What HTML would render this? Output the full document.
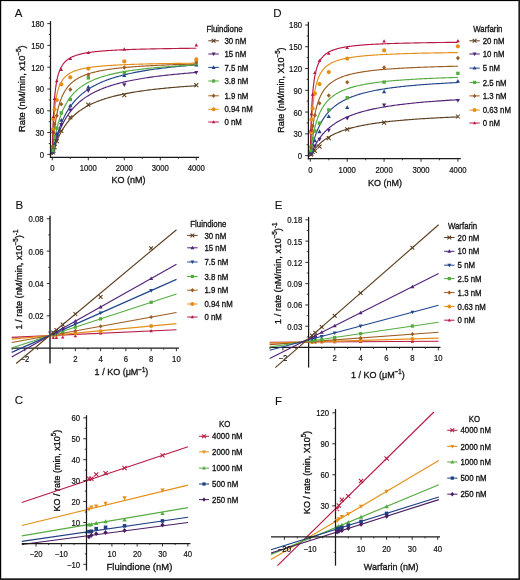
<!DOCTYPE html>
<html><head><meta charset="utf-8"><style>
html,body{margin:0;padding:0;background:#fff;}
body{width:520px;height:580px;overflow:hidden;position:relative;}
svg{display:block;position:absolute;left:0;top:0;will-change:transform;}
text{font-family:"Liberation Sans",sans-serif;stroke:#111;stroke-width:0.32px;}
.bd{position:absolute;background:#111;}
</style></head><body>
<svg width="520" height="580" viewBox="0 0 520 580">
<rect x="0" y="0" width="520" height="580" fill="#fff"/>
<text x="0" y="0" font-size="11.5" text-anchor="middle" fill="#111" transform="translate(18.6 17.24)" style="stroke-width:0.1px">A</text>
<text x="0" y="0" font-size="11.5" text-anchor="middle" fill="#111" transform="translate(277.4 17.24)" style="stroke-width:0.1px">D</text>
<text x="0" y="0" font-size="11.5" text-anchor="middle" fill="#111" transform="translate(19.3 208.74)" style="stroke-width:0.1px">B</text>
<text x="0" y="0" font-size="11.5" text-anchor="middle" fill="#111" transform="translate(278.5 208.74)" style="stroke-width:0.1px">E</text>
<text x="0" y="0" font-size="11.5" text-anchor="middle" fill="#111" transform="translate(18.9 404.34)" style="stroke-width:0.1px">C</text>
<text x="0" y="0" font-size="11.5" text-anchor="middle" fill="#111" transform="translate(278.6 404.64)" style="stroke-width:0.1px">F</text>
<path d="M52.3 154.4L52.3 154.4L52.3 154.4L52.3 154.4L52.3 154.4L52.3 154.39L52.3 154.39L52.3 154.38L52.31 154.38L52.31 154.37L52.31 154.35L52.32 154.34L52.32 154.32L52.33 154.3L52.34 154.27L52.35 154.24L52.36 154.21L52.37 154.17L52.38 154.12L52.39 154.07L52.41 154.02L52.43 153.96L52.44 153.9L52.46 153.82L52.49 153.75L52.51 153.66L52.54 153.57L52.57 153.47L52.6 153.37L52.63 153.25L52.67 153.13L52.7 153L52.74 152.87L52.79 152.72L52.83 152.57L52.88 152.41L52.93 152.24L52.99 152.06L53.04 151.87L53.1 151.67L53.17 151.46L53.23 151.25L53.3 151.02L53.38 150.78L53.45 150.54L53.53 150.28L53.62 150.02L53.7 149.74L53.8 149.46L53.89 149.16L53.99 148.86L54.09 148.54L54.2 148.22L54.31 147.89L54.43 147.54L54.55 147.19L54.67 146.83L54.8 146.46L54.94 146.07L55.08 145.68L55.22 145.29L55.37 144.88L55.52 144.46L55.68 144.04L55.85 143.6L56.01 143.16L56.19 142.71L56.37 142.26L56.55 141.79L56.74 141.32L56.94 140.84L57.14 140.36L57.35 139.87L57.56 139.37L57.78 138.86L58.01 138.35L58.24 137.84L58.47 137.32L58.72 136.79L58.97 136.27L59.22 135.73L59.49 135.19L59.76 134.65L60.03 134.11L60.32 133.56L60.61 133.01L60.9 132.46L61.21 131.9L61.52 131.35L61.83 130.79L62.16 130.23L62.49 129.67L62.83 129.1L63.18 128.54L63.53 127.98L63.89 127.42L64.26 126.85L64.64 126.29L65.03 125.73L65.42 125.17L65.82 124.61L66.23 124.05L66.65 123.5L67.08 122.94L67.51 122.39L67.96 121.84L68.41 121.29L68.87 120.75L69.34 120.21L69.81 119.67L70.3 119.13L70.8 118.6L71.3 118.07L71.81 117.54L72.34 117.02L72.87 116.5L73.41 115.98L73.96 115.47L74.52 114.97L75.09 114.46L75.67 113.97L76.26 113.47L76.86 112.98L77.47 112.5L78.08 112.02L78.71 111.54L79.35 111.07L80 110.6L80.66 110.14L81.33 109.68L82.01 109.23L82.7 108.78L83.4 108.34L84.12 107.9L84.84 107.47L85.57 107.05L86.32 106.62L87.07 106.21L87.84 105.79L88.62 105.39L89.41 104.98L90.21 104.58L91.02 104.19L91.85 103.8L92.68 103.42L93.53 103.04L94.39 102.67L95.26 102.3L96.14 101.94L97.04 101.58L97.94 101.23L98.86 100.88L99.79 100.53L100.74 100.19L101.69 99.86L102.66 99.53L103.64 99.2L104.64 98.88L105.64 98.56L106.66 98.25L107.69 97.94L108.74 97.64L109.8 97.34L110.87 97.04L111.95 96.75L113.05 96.46L114.16 96.18L115.29 95.9L116.42 95.63L117.58 95.36L118.74 95.09L119.92 94.83L121.11 94.57L122.32 94.31L123.54 94.06L124.78 93.81L126.03 93.57L127.29 93.33L128.57 93.09L129.86 92.85L131.17 92.62L132.49 92.4L133.83 92.17L135.18 91.95L136.55 91.73L137.93 91.52L139.32 91.31L140.73 91.1L142.16 90.9L143.6 90.7L145.06 90.5L146.53 90.3L148.02 90.11L149.52 89.92L151.04 89.73L152.58 89.55L154.13 89.37L155.69 89.19L157.28 89.01L158.87 88.84L160.49 88.66L162.12 88.5L163.77 88.33L165.43 88.17L167.11 88L168.81 87.85L170.52 87.69L172.25 87.53L174 87.38L175.76 87.23L177.54 87.08L179.34 86.94L181.16 86.8L182.99 86.65L184.84 86.51L186.7 86.38L188.59 86.24L190.49 86.11L192.41 85.98L194.35 85.85L196.3 85.72" fill="none" stroke="#5e3f1f" stroke-width="1.15"/>
<path d="M52.3 154.4L52.3 154.4L52.3 154.4L52.3 154.4L52.3 154.4L52.3 154.39L52.3 154.39L52.3 154.38L52.31 154.37L52.31 154.36L52.31 154.34L52.32 154.32L52.32 154.3L52.33 154.27L52.34 154.24L52.35 154.2L52.36 154.16L52.37 154.11L52.38 154.06L52.39 154L52.41 153.93L52.43 153.86L52.44 153.78L52.46 153.69L52.49 153.6L52.51 153.49L52.54 153.38L52.57 153.26L52.6 153.13L52.63 152.99L52.67 152.84L52.7 152.68L52.74 152.51L52.79 152.34L52.83 152.15L52.88 151.95L52.93 151.74L52.99 151.52L53.04 151.28L53.1 151.04L53.17 150.79L53.23 150.52L53.3 150.24L53.38 149.95L53.45 149.65L53.53 149.34L53.62 149.01L53.7 148.67L53.8 148.32L53.89 147.96L53.99 147.59L54.09 147.21L54.2 146.81L54.31 146.4L54.43 145.98L54.55 145.55L54.67 145.11L54.8 144.65L54.94 144.19L55.08 143.71L55.22 143.22L55.37 142.72L55.52 142.22L55.68 141.7L55.85 141.17L56.01 140.63L56.19 140.08L56.37 139.53L56.55 138.96L56.74 138.39L56.94 137.81L57.14 137.22L57.35 136.62L57.56 136.01L57.78 135.4L58.01 134.78L58.24 134.16L58.47 133.53L58.72 132.89L58.97 132.25L59.22 131.61L59.49 130.96L59.76 130.3L60.03 129.64L60.32 128.98L60.61 128.32L60.9 127.65L61.21 126.98L61.52 126.31L61.83 125.64L62.16 124.96L62.49 124.29L62.83 123.61L63.18 122.94L63.53 122.26L63.89 121.58L64.26 120.91L64.64 120.24L65.03 119.56L65.42 118.89L65.82 118.22L66.23 117.55L66.65 116.89L67.08 116.23L67.51 115.56L67.96 114.91L68.41 114.25L68.87 113.6L69.34 112.96L69.81 112.31L70.3 111.67L70.8 111.04L71.3 110.41L71.81 109.78L72.34 109.16L72.87 108.54L73.41 107.93L73.96 107.33L74.52 106.72L75.09 106.13L75.67 105.54L76.26 104.95L76.86 104.37L77.47 103.8L78.08 103.23L78.71 102.67L79.35 102.11L80 101.56L80.66 101.01L81.33 100.47L82.01 99.94L82.7 99.41L83.4 98.89L84.12 98.37L84.84 97.86L85.57 97.36L86.32 96.86L87.07 96.37L87.84 95.89L88.62 95.41L89.41 94.93L90.21 94.47L91.02 94.01L91.85 93.55L92.68 93.1L93.53 92.66L94.39 92.22L95.26 91.79L96.14 91.36L97.04 90.94L97.94 90.53L98.86 90.12L99.79 89.71L100.74 89.32L101.69 88.92L102.66 88.54L103.64 88.16L104.64 87.78L105.64 87.41L106.66 87.04L107.69 86.68L108.74 86.33L109.8 85.98L110.87 85.63L111.95 85.3L113.05 84.96L114.16 84.63L115.29 84.31L116.42 83.98L117.58 83.67L118.74 83.36L119.92 83.05L121.11 82.75L122.32 82.45L123.54 82.16L124.78 81.87L126.03 81.59L127.29 81.31L128.57 81.03L129.86 80.76L131.17 80.49L132.49 80.23L133.83 79.97L135.18 79.71L136.55 79.46L137.93 79.21L139.32 78.96L140.73 78.72L142.16 78.49L143.6 78.25L145.06 78.02L146.53 77.79L148.02 77.57L149.52 77.35L151.04 77.13L152.58 76.92L154.13 76.71L155.69 76.5L157.28 76.3L158.87 76.1L160.49 75.9L162.12 75.7L163.77 75.51L165.43 75.32L167.11 75.13L168.81 74.95L170.52 74.77L172.25 74.59L174 74.41L175.76 74.24L177.54 74.07L179.34 73.9L181.16 73.74L182.99 73.57L184.84 73.41L186.7 73.25L188.59 73.1L190.49 72.94L192.41 72.79L194.35 72.64L196.3 72.49" fill="none" stroke="#522379" stroke-width="1.15"/>
<path d="M52.3 154.4L52.3 154.4L52.3 154.4L52.3 154.4L52.3 154.4L52.3 154.39L52.3 154.39L52.3 154.38L52.31 154.37L52.31 154.35L52.31 154.33L52.32 154.31L52.32 154.28L52.33 154.25L52.34 154.22L52.35 154.17L52.36 154.13L52.37 154.07L52.38 154.01L52.39 153.94L52.41 153.86L52.43 153.78L52.44 153.69L52.46 153.59L52.49 153.48L52.51 153.36L52.54 153.23L52.57 153.09L52.6 152.94L52.63 152.78L52.67 152.61L52.7 152.43L52.74 152.24L52.79 152.04L52.83 151.82L52.88 151.59L52.93 151.35L52.99 151.1L53.04 150.83L53.1 150.56L53.17 150.27L53.23 149.96L53.3 149.64L53.38 149.31L53.45 148.97L53.53 148.61L53.62 148.24L53.7 147.86L53.8 147.46L53.89 147.05L53.99 146.62L54.09 146.19L54.2 145.74L54.31 145.27L54.43 144.8L54.55 144.31L54.67 143.8L54.8 143.29L54.94 142.76L55.08 142.22L55.22 141.67L55.37 141.11L55.52 140.53L55.68 139.95L55.85 139.35L56.01 138.74L56.19 138.13L56.37 137.5L56.55 136.86L56.74 136.22L56.94 135.56L57.14 134.9L57.35 134.23L57.56 133.55L57.78 132.86L58.01 132.17L58.24 131.47L58.47 130.77L58.72 130.06L58.97 129.34L59.22 128.62L59.49 127.89L59.76 127.16L60.03 126.43L60.32 125.7L60.61 124.96L60.9 124.21L61.21 123.47L61.52 122.73L61.83 121.98L62.16 121.23L62.49 120.49L62.83 119.74L63.18 118.99L63.53 118.25L63.89 117.5L64.26 116.76L64.64 116.01L65.03 115.27L65.42 114.53L65.82 113.8L66.23 113.06L66.65 112.33L67.08 111.61L67.51 110.88L67.96 110.16L68.41 109.45L68.87 108.74L69.34 108.03L69.81 107.33L70.3 106.63L70.8 105.94L71.3 105.25L71.81 104.57L72.34 103.9L72.87 103.23L73.41 102.56L73.96 101.9L74.52 101.25L75.09 100.6L75.67 99.96L76.26 99.33L76.86 98.7L77.47 98.08L78.08 97.47L78.71 96.86L79.35 96.26L80 95.66L80.66 95.08L81.33 94.5L82.01 93.92L82.7 93.36L83.4 92.79L84.12 92.24L84.84 91.69L85.57 91.15L86.32 90.62L87.07 90.09L87.84 89.57L88.62 89.06L89.41 88.55L90.21 88.06L91.02 87.56L91.85 87.08L92.68 86.6L93.53 86.12L94.39 85.66L95.26 85.2L96.14 84.74L97.04 84.29L97.94 83.85L98.86 83.42L99.79 82.99L100.74 82.57L101.69 82.15L102.66 81.74L103.64 81.33L104.64 80.94L105.64 80.54L106.66 80.16L107.69 79.77L108.74 79.4L109.8 79.03L110.87 78.66L111.95 78.3L113.05 77.95L114.16 77.6L115.29 77.26L116.42 76.92L117.58 76.59L118.74 76.26L119.92 75.93L121.11 75.61L122.32 75.3L123.54 74.99L124.78 74.69L126.03 74.39L127.29 74.09L128.57 73.8L129.86 73.52L131.17 73.23L132.49 72.96L133.83 72.68L135.18 72.41L136.55 72.15L137.93 71.89L139.32 71.63L140.73 71.38L142.16 71.13L143.6 70.88L145.06 70.64L146.53 70.4L148.02 70.17L149.52 69.94L151.04 69.71L152.58 69.49L154.13 69.27L155.69 69.05L157.28 68.84L158.87 68.62L160.49 68.42L162.12 68.21L163.77 68.01L165.43 67.81L167.11 67.62L168.81 67.43L170.52 67.24L172.25 67.05L174 66.87L175.76 66.68L177.54 66.51L179.34 66.33L181.16 66.16L182.99 65.99L184.84 65.82L186.7 65.65L188.59 65.49L190.49 65.33L192.41 65.17L194.35 65.02L196.3 64.86" fill="none" stroke="#22468c" stroke-width="1.15"/>
<path d="M52.3 154.4L52.3 154.4L52.3 154.4L52.3 154.4L52.3 154.39L52.3 154.39L52.3 154.38L52.3 154.36L52.31 154.35L52.31 154.32L52.31 154.3L52.32 154.26L52.32 154.22L52.33 154.17L52.34 154.12L52.35 154.05L52.36 153.98L52.37 153.89L52.38 153.8L52.39 153.69L52.41 153.58L52.43 153.45L52.44 153.31L52.46 153.15L52.49 152.99L52.51 152.81L52.54 152.61L52.57 152.4L52.6 152.17L52.63 151.93L52.67 151.68L52.7 151.4L52.74 151.12L52.79 150.81L52.83 150.49L52.88 150.15L52.93 149.79L52.99 149.41L53.04 149.02L53.1 148.61L53.17 148.18L53.23 147.74L53.3 147.28L53.38 146.8L53.45 146.3L53.53 145.78L53.62 145.25L53.7 144.7L53.8 144.14L53.89 143.55L53.99 142.96L54.09 142.34L54.2 141.71L54.31 141.07L54.43 140.41L54.55 139.74L54.67 139.05L54.8 138.35L54.94 137.64L55.08 136.92L55.22 136.18L55.37 135.44L55.52 134.68L55.68 133.92L55.85 133.14L56.01 132.36L56.19 131.57L56.37 130.77L56.55 129.96L56.74 129.15L56.94 128.34L57.14 127.52L57.35 126.69L57.56 125.87L57.78 125.04L58.01 124.2L58.24 123.37L58.47 122.54L58.72 121.7L58.97 120.86L59.22 120.03L59.49 119.2L59.76 118.37L60.03 117.54L60.32 116.71L60.61 115.89L60.9 115.07L61.21 114.25L61.52 113.44L61.83 112.63L62.16 111.83L62.49 111.04L62.83 110.25L63.18 109.46L63.53 108.68L63.89 107.91L64.26 107.15L64.64 106.39L65.03 105.64L65.42 104.9L65.82 104.17L66.23 103.44L66.65 102.73L67.08 102.02L67.51 101.32L67.96 100.62L68.41 99.94L68.87 99.27L69.34 98.6L69.81 97.94L70.3 97.29L70.8 96.65L71.3 96.02L71.81 95.4L72.34 94.79L72.87 94.18L73.41 93.59L73.96 93L74.52 92.43L75.09 91.86L75.67 91.3L76.26 90.75L76.86 90.2L77.47 89.67L78.08 89.15L78.71 88.63L79.35 88.12L80 87.62L80.66 87.13L81.33 86.65L82.01 86.17L82.7 85.7L83.4 85.24L84.12 84.79L84.84 84.35L85.57 83.91L86.32 83.48L87.07 83.06L87.84 82.65L88.62 82.24L89.41 81.84L90.21 81.45L91.02 81.06L91.85 80.68L92.68 80.31L93.53 79.95L94.39 79.59L95.26 79.23L96.14 78.89L97.04 78.55L97.94 78.21L98.86 77.88L99.79 77.56L100.74 77.24L101.69 76.93L102.66 76.63L103.64 76.33L104.64 76.03L105.64 75.74L106.66 75.46L107.69 75.18L108.74 74.9L109.8 74.63L110.87 74.37L111.95 74.11L113.05 73.85L114.16 73.6L115.29 73.36L116.42 73.11L117.58 72.88L118.74 72.64L119.92 72.41L121.11 72.19L122.32 71.97L123.54 71.75L124.78 71.53L126.03 71.33L127.29 71.12L128.57 70.92L129.86 70.72L131.17 70.52L132.49 70.33L133.83 70.14L135.18 69.96L136.55 69.77L137.93 69.59L139.32 69.42L140.73 69.25L142.16 69.08L143.6 68.91L145.06 68.74L146.53 68.58L148.02 68.42L149.52 68.27L151.04 68.11L152.58 67.96L154.13 67.82L155.69 67.67L157.28 67.53L158.87 67.39L160.49 67.25L162.12 67.11L163.77 66.98L165.43 66.85L167.11 66.72L168.81 66.59L170.52 66.46L172.25 66.34L174 66.22L175.76 66.1L177.54 65.98L179.34 65.87L181.16 65.75L182.99 65.64L184.84 65.53L186.7 65.43L188.59 65.32L190.49 65.21L192.41 65.11L194.35 65.01L196.3 64.91" fill="none" stroke="#55ab40" stroke-width="1.15"/>
<path d="M52.3 154.4L52.3 154.4L52.3 154.4L52.3 154.39L52.3 154.39L52.3 154.37L52.3 154.36L52.3 154.33L52.31 154.29L52.31 154.25L52.31 154.19L52.32 154.12L52.32 154.04L52.33 153.95L52.34 153.83L52.35 153.7L52.36 153.56L52.37 153.39L52.38 153.2L52.39 153L52.41 152.77L52.43 152.52L52.44 152.24L52.46 151.94L52.49 151.62L52.51 151.27L52.54 150.89L52.57 150.48L52.6 150.05L52.63 149.6L52.67 149.11L52.7 148.6L52.74 148.06L52.79 147.49L52.83 146.89L52.88 146.27L52.93 145.62L52.99 144.94L53.04 144.24L53.1 143.51L53.17 142.76L53.23 141.98L53.3 141.18L53.38 140.36L53.45 139.51L53.53 138.65L53.62 137.76L53.7 136.86L53.8 135.94L53.89 135.01L53.99 134.06L54.09 133.09L54.2 132.12L54.31 131.13L54.43 130.13L54.55 129.13L54.67 128.12L54.8 127.1L54.94 126.08L55.08 125.05L55.22 124.02L55.37 122.99L55.52 121.96L55.68 120.93L55.85 119.91L56.01 118.88L56.19 117.86L56.37 116.85L56.55 115.84L56.74 114.84L56.94 113.84L57.14 112.86L57.35 111.88L57.56 110.91L57.78 109.96L58.01 109.01L58.24 108.07L58.47 107.15L58.72 106.24L58.97 105.34L59.22 104.45L59.49 103.58L59.76 102.72L60.03 101.87L60.32 101.04L60.61 100.22L60.9 99.41L61.21 98.62L61.52 97.84L61.83 97.08L62.16 96.33L62.49 95.59L62.83 94.87L63.18 94.16L63.53 93.46L63.89 92.78L64.26 92.12L64.64 91.46L65.03 90.82L65.42 90.2L65.82 89.58L66.23 88.98L66.65 88.39L67.08 87.82L67.51 87.26L67.96 86.7L68.41 86.17L68.87 85.64L69.34 85.12L69.81 84.62L70.3 84.12L70.8 83.64L71.3 83.17L71.81 82.71L72.34 82.26L72.87 81.82L73.41 81.39L73.96 80.97L74.52 80.56L75.09 80.16L75.67 79.76L76.26 79.38L76.86 79L77.47 78.64L78.08 78.28L78.71 77.93L79.35 77.59L80 77.25L80.66 76.92L81.33 76.6L82.01 76.29L82.7 75.99L83.4 75.69L84.12 75.4L84.84 75.11L85.57 74.83L86.32 74.56L87.07 74.29L87.84 74.03L88.62 73.78L89.41 73.53L90.21 73.29L91.02 73.05L91.85 72.82L92.68 72.59L93.53 72.37L94.39 72.15L95.26 71.94L96.14 71.73L97.04 71.52L97.94 71.33L98.86 71.13L99.79 70.94L100.74 70.75L101.69 70.57L102.66 70.39L103.64 70.22L104.64 70.05L105.64 69.88L106.66 69.71L107.69 69.55L108.74 69.4L109.8 69.24L110.87 69.09L111.95 68.95L113.05 68.8L114.16 68.66L115.29 68.52L116.42 68.39L117.58 68.25L118.74 68.12L119.92 67.99L121.11 67.87L122.32 67.75L123.54 67.63L124.78 67.51L126.03 67.39L127.29 67.28L128.57 67.17L129.86 67.06L131.17 66.96L132.49 66.85L133.83 66.75L135.18 66.65L136.55 66.55L137.93 66.45L139.32 66.36L140.73 66.27L142.16 66.18L143.6 66.09L145.06 66L146.53 65.91L148.02 65.83L149.52 65.75L151.04 65.67L152.58 65.59L154.13 65.51L155.69 65.43L157.28 65.36L158.87 65.28L160.49 65.21L162.12 65.14L163.77 65.07L165.43 65L167.11 64.93L168.81 64.87L170.52 64.8L172.25 64.74L174 64.68L175.76 64.61L177.54 64.55L179.34 64.49L181.16 64.43L182.99 64.38L184.84 64.32L186.7 64.27L188.59 64.21L190.49 64.16L192.41 64.11L194.35 64.05L196.3 64" fill="none" stroke="#9c5e22" stroke-width="1.15"/>
<path d="M52.3 154.4L52.3 154.4L52.3 154.4L52.3 154.39L52.3 154.37L52.3 154.34L52.3 154.29L52.3 154.23L52.31 154.15L52.31 154.04L52.31 153.91L52.32 153.75L52.32 153.55L52.33 153.33L52.34 153.06L52.35 152.76L52.36 152.42L52.37 152.03L52.38 151.6L52.39 151.13L52.41 150.61L52.43 150.04L52.44 149.42L52.46 148.75L52.49 148.04L52.51 147.27L52.54 146.46L52.57 145.6L52.6 144.69L52.63 143.73L52.67 142.73L52.7 141.69L52.74 140.61L52.79 139.49L52.83 138.34L52.88 137.15L52.93 135.93L52.99 134.68L53.04 133.41L53.1 132.12L53.17 130.81L53.23 129.48L53.3 128.14L53.38 126.79L53.45 125.43L53.53 124.07L53.62 122.71L53.7 121.35L53.8 119.99L53.89 118.64L53.99 117.3L54.09 115.97L54.2 114.65L54.31 113.35L54.43 112.06L54.55 110.79L54.67 109.54L54.8 108.31L54.94 107.09L55.08 105.9L55.22 104.74L55.37 103.59L55.52 102.47L55.68 101.38L55.85 100.31L56.01 99.26L56.19 98.24L56.37 97.24L56.55 96.27L56.74 95.32L56.94 94.4L57.14 93.5L57.35 92.63L57.56 91.78L57.78 90.95L58.01 90.15L58.24 89.37L58.47 88.61L58.72 87.87L58.97 87.16L59.22 86.46L59.49 85.79L59.76 85.14L60.03 84.5L60.32 83.89L60.61 83.29L60.9 82.71L61.21 82.15L61.52 81.6L61.83 81.08L62.16 80.56L62.49 80.07L62.83 79.58L63.18 79.12L63.53 78.66L63.89 78.23L64.26 77.8L64.64 77.39L65.03 76.99L65.42 76.6L65.82 76.22L66.23 75.86L66.65 75.5L67.08 75.16L67.51 74.82L67.96 74.5L68.41 74.19L68.87 73.88L69.34 73.58L69.81 73.3L70.3 73.02L70.8 72.75L71.3 72.49L71.81 72.23L72.34 71.98L72.87 71.74L73.41 71.51L73.96 71.28L74.52 71.06L75.09 70.85L75.67 70.64L76.26 70.44L76.86 70.24L77.47 70.05L78.08 69.86L78.71 69.68L79.35 69.5L80 69.33L80.66 69.17L81.33 69L82.01 68.85L82.7 68.69L83.4 68.54L84.12 68.4L84.84 68.26L85.57 68.12L86.32 67.98L87.07 67.85L87.84 67.73L88.62 67.6L89.41 67.48L90.21 67.36L91.02 67.25L91.85 67.14L92.68 67.03L93.53 66.92L94.39 66.82L95.26 66.72L96.14 66.62L97.04 66.52L97.94 66.43L98.86 66.33L99.79 66.25L100.74 66.16L101.69 66.07L102.66 65.99L103.64 65.91L104.64 65.83L105.64 65.75L106.66 65.68L107.69 65.6L108.74 65.53L109.8 65.46L110.87 65.39L111.95 65.32L113.05 65.26L114.16 65.19L115.29 65.13L116.42 65.07L117.58 65.01L118.74 64.95L119.92 64.89L121.11 64.84L122.32 64.78L123.54 64.73L124.78 64.67L126.03 64.62L127.29 64.57L128.57 64.52L129.86 64.47L131.17 64.43L132.49 64.38L133.83 64.34L135.18 64.29L136.55 64.25L137.93 64.2L139.32 64.16L140.73 64.12L142.16 64.08L143.6 64.04L145.06 64L146.53 63.97L148.02 63.93L149.52 63.89L151.04 63.86L152.58 63.82L154.13 63.79L155.69 63.76L157.28 63.72L158.87 63.69L160.49 63.66L162.12 63.63L163.77 63.6L165.43 63.57L167.11 63.54L168.81 63.51L170.52 63.48L172.25 63.45L174 63.43L175.76 63.4L177.54 63.37L179.34 63.35L181.16 63.32L182.99 63.3L184.84 63.28L186.7 63.25L188.59 63.23L190.49 63.21L192.41 63.18L194.35 63.16L196.3 63.14" fill="none" stroke="#e58f18" stroke-width="1.15"/>
<path d="M52.3 154.4L52.3 154.4L52.3 154.39L52.3 154.38L52.3 154.36L52.3 154.31L52.3 154.25L52.3 154.16L52.31 154.04L52.31 153.89L52.31 153.71L52.32 153.48L52.32 153.21L52.33 152.89L52.34 152.52L52.35 152.09L52.36 151.61L52.37 151.07L52.38 150.47L52.39 149.81L52.41 149.09L52.43 148.3L52.44 147.44L52.46 146.52L52.49 145.54L52.51 144.49L52.54 143.38L52.57 142.2L52.6 140.97L52.63 139.69L52.67 138.35L52.7 136.96L52.74 135.52L52.79 134.04L52.83 132.52L52.88 130.96L52.93 129.37L52.99 127.76L53.04 126.12L53.1 124.47L53.17 122.8L53.23 121.12L53.3 119.44L53.38 117.75L53.45 116.07L53.53 114.38L53.62 112.71L53.7 111.05L53.8 109.41L53.89 107.78L53.99 106.17L54.09 104.58L54.2 103.02L54.31 101.49L54.43 99.98L54.55 98.49L54.67 97.04L54.8 95.62L54.94 94.23L55.08 92.88L55.22 91.55L55.37 90.26L55.52 89L55.68 87.77L55.85 86.58L56.01 85.42L56.19 84.29L56.37 83.19L56.55 82.13L56.74 81.1L56.94 80.09L57.14 79.12L57.35 78.18L57.56 77.26L57.78 76.38L58.01 75.52L58.24 74.69L58.47 73.89L58.72 73.11L58.97 72.35L59.22 71.62L59.49 70.92L59.76 70.23L60.03 69.57L60.32 68.93L60.61 68.31L60.9 67.71L61.21 67.13L61.52 66.57L61.83 66.02L62.16 65.5L62.49 64.99L62.83 64.5L63.18 64.02L63.53 63.56L63.89 63.11L64.26 62.68L64.64 62.26L65.03 61.86L65.42 61.47L65.82 61.09L66.23 60.72L66.65 60.36L67.08 60.02L67.51 59.68L67.96 59.36L68.41 59.04L68.87 58.74L69.34 58.44L69.81 58.16L70.3 57.88L70.8 57.61L71.3 57.35L71.81 57.1L72.34 56.85L72.87 56.61L73.41 56.38L73.96 56.16L74.52 55.94L75.09 55.73L75.67 55.52L76.26 55.32L76.86 55.13L77.47 54.94L78.08 54.76L78.71 54.58L79.35 54.41L80 54.24L80.66 54.08L81.33 53.92L82.01 53.76L82.7 53.61L83.4 53.47L84.12 53.32L84.84 53.19L85.57 53.05L86.32 52.92L87.07 52.79L87.84 52.67L88.62 52.55L89.41 52.43L90.21 52.32L91.02 52.2L91.85 52.1L92.68 51.99L93.53 51.89L94.39 51.79L95.26 51.69L96.14 51.59L97.04 51.5L97.94 51.41L98.86 51.32L99.79 51.23L100.74 51.15L101.69 51.06L102.66 50.98L103.64 50.9L104.64 50.83L105.64 50.75L106.66 50.68L107.69 50.61L108.74 50.54L109.8 50.47L110.87 50.4L111.95 50.34L113.05 50.28L114.16 50.21L115.29 50.15L116.42 50.09L117.58 50.04L118.74 49.98L119.92 49.92L121.11 49.87L122.32 49.82L123.54 49.76L124.78 49.71L126.03 49.66L127.29 49.62L128.57 49.57L129.86 49.52L131.17 49.48L132.49 49.43L133.83 49.39L135.18 49.35L136.55 49.3L137.93 49.26L139.32 49.22L140.73 49.18L142.16 49.14L143.6 49.11L145.06 49.07L146.53 49.03L148.02 49L149.52 48.96L151.04 48.93L152.58 48.9L154.13 48.86L155.69 48.83L157.28 48.8L158.87 48.77L160.49 48.74L162.12 48.71L163.77 48.68L165.43 48.65L167.11 48.62L168.81 48.6L170.52 48.57L172.25 48.54L174 48.52L175.76 48.49L177.54 48.47L179.34 48.44L181.16 48.42L182.99 48.39L184.84 48.37L186.7 48.35L188.59 48.33L190.49 48.3L192.41 48.28L194.35 48.26L196.3 48.24" fill="none" stroke="#b81a44" stroke-width="1.15"/>
<path d="M50.86 150.47L54.86 154.47M50.86 154.47L54.86 150.47" stroke="#5e3f1f" stroke-width="1.05" fill="none"/>
<path d="M51.42 148.62L55.42 152.62M51.42 152.62L55.42 148.62" stroke="#5e3f1f" stroke-width="1.05" fill="none"/>
<path d="M52.55 145.19L56.55 149.19M52.55 149.19L56.55 145.19" stroke="#5e3f1f" stroke-width="1.05" fill="none"/>
<path d="M54.8 139.18L58.8 143.18M54.8 143.18L58.8 139.18" stroke="#5e3f1f" stroke-width="1.05" fill="none"/>
<path d="M59.3 128.93L63.3 132.93M59.3 132.93L63.3 128.93" stroke="#5e3f1f" stroke-width="1.05" fill="none"/>
<path d="M68.3 115.43L72.3 119.43M68.3 119.43L72.3 115.43" stroke="#5e3f1f" stroke-width="1.05" fill="none"/>
<path d="M86.3 102.65L90.3 106.65M86.3 106.65L90.3 102.65" stroke="#5e3f1f" stroke-width="1.05" fill="none"/>
<path d="M122.3 93.21L126.3 97.21M122.3 97.21L126.3 93.21" stroke="#5e3f1f" stroke-width="1.05" fill="none"/>
<path d="M194.3 83.12L198.3 87.12M194.3 87.12L198.3 83.12" stroke="#5e3f1f" stroke-width="1.05" fill="none"/>
<path d="M52.86 154.22L54.96 150.42L50.76 150.42Z" fill="#522379"/>
<path d="M53.42 151.96L55.52 148.16L51.32 148.16Z" fill="#522379"/>
<path d="M54.55 147.75L56.65 143.95L52.45 143.95Z" fill="#522379"/>
<path d="M56.8 138.72L58.9 134.92L54.7 134.92Z" fill="#522379"/>
<path d="M61.3 126.88L63.4 123.08L59.2 123.08Z" fill="#522379"/>
<path d="M70.3 112.27L72.4 108.47L68.2 108.47Z" fill="#522379"/>
<path d="M88.3 92.9L90.4 89.1L86.2 89.1Z" fill="#522379"/>
<path d="M124.3 86.98L126.4 83.18L122.2 83.18Z" fill="#522379"/>
<path d="M196.3 74.69L198.4 70.89L194.2 70.89Z" fill="#522379"/>
<path d="M52.86 149.48L54.96 153.28L50.76 153.28Z" fill="#22468c"/>
<path d="M53.42 146.89L55.52 150.69L51.32 150.69Z" fill="#22468c"/>
<path d="M54.55 142.11L56.65 145.91L52.45 145.91Z" fill="#22468c"/>
<path d="M56.8 131.52L58.9 135.32L54.7 135.32Z" fill="#22468c"/>
<path d="M61.3 118.04L63.4 121.84L59.2 121.84Z" fill="#22468c"/>
<path d="M70.3 103.43L72.4 107.23L68.2 107.23Z" fill="#22468c"/>
<path d="M88.3 84.87L90.4 88.67L86.2 88.67Z" fill="#22468c"/>
<path d="M124.3 73.31L126.4 77.11L122.2 77.11Z" fill="#22468c"/>
<path d="M196.3 62.66L198.4 66.46L194.2 66.46Z" fill="#22468c"/>
<rect x="51.16" y="148.57" width="3.4" height="3.4" fill="#55ab40"/>
<rect x="51.72" y="144.77" width="3.4" height="3.4" fill="#55ab40"/>
<rect x="52.85" y="134.84" width="3.4" height="3.4" fill="#55ab40"/>
<rect x="55.1" y="126.31" width="3.4" height="3.4" fill="#55ab40"/>
<rect x="59.6" y="111.2" width="3.4" height="3.4" fill="#55ab40"/>
<rect x="68.6" y="97.79" width="3.4" height="3.4" fill="#55ab40"/>
<rect x="86.6" y="76.21" width="3.4" height="3.4" fill="#55ab40"/>
<rect x="122.6" y="70.82" width="3.4" height="3.4" fill="#55ab40"/>
<rect x="194.6" y="61.91" width="3.4" height="3.4" fill="#55ab40"/>
<path d="M52.86 144.2L54.86 146.5L52.86 148.8L50.86 146.5Z" fill="#9c5e22"/>
<path d="M53.42 130.81L55.42 133.11L53.42 135.41L51.42 133.11Z" fill="#9c5e22"/>
<path d="M54.55 121.83L56.55 124.13L54.55 126.43L52.55 124.13Z" fill="#9c5e22"/>
<path d="M56.8 113.34L58.8 115.64L56.8 117.94L54.8 115.64Z" fill="#9c5e22"/>
<path d="M61.3 101.88L63.3 104.18L61.3 106.48L59.3 104.18Z" fill="#9c5e22"/>
<path d="M70.3 87.32L72.3 89.62L70.3 91.92L68.3 89.62Z" fill="#9c5e22"/>
<path d="M88.3 72.48L90.3 74.78L88.3 77.08L86.3 74.78Z" fill="#9c5e22"/>
<path d="M124.3 65.25L126.3 67.55L124.3 69.85L122.3 67.55Z" fill="#9c5e22"/>
<path d="M196.3 59.8L198.3 62.1L196.3 64.4L194.3 62.1Z" fill="#9c5e22"/>
<circle cx="52.86" cy="129.49" r="2.1" fill="#e58f18"/>
<circle cx="53.42" cy="119.1" r="2.1" fill="#e58f18"/>
<circle cx="54.55" cy="109.59" r="2.1" fill="#e58f18"/>
<circle cx="56.8" cy="100.05" r="2.1" fill="#e58f18"/>
<circle cx="61.3" cy="84.28" r="2.1" fill="#e58f18"/>
<circle cx="70.3" cy="77.32" r="2.1" fill="#e58f18"/>
<circle cx="88.3" cy="68.55" r="2.1" fill="#e58f18"/>
<circle cx="124.3" cy="61.39" r="2.1" fill="#e58f18"/>
<circle cx="196.3" cy="59.44" r="2.1" fill="#e58f18"/>
<path d="M52.86 129.64L54.66 132.94L51.06 132.94Z" fill="#b81a44"/>
<path d="M53.42 114.75L55.22 118.05L51.62 118.05Z" fill="#b81a44"/>
<path d="M54.55 96.59L56.35 99.89L52.75 99.89Z" fill="#b81a44"/>
<path d="M56.8 78.9L58.6 82.2L55 82.2Z" fill="#b81a44"/>
<path d="M61.3 67.76L63.1 71.06L59.5 71.06Z" fill="#b81a44"/>
<path d="M70.3 56.78L72.1 60.08L68.5 60.08Z" fill="#b81a44"/>
<path d="M88.3 50.7L90.1 54L86.5 54Z" fill="#b81a44"/>
<path d="M124.3 47.33L126.1 50.63L122.5 50.63Z" fill="#b81a44"/>
<path d="M196.3 43.14L198.1 46.44L194.5 46.44Z" fill="#b81a44"/>
<line x1="50.5" y1="21" x2="50.5" y2="157.9" stroke="#1a1a1a" stroke-width="1.25"/>
<line x1="49.9" y1="157.3" x2="199" y2="157.3" stroke="#1a1a1a" stroke-width="1.25"/>
<line x1="47.3" y1="154.4" x2="50.5" y2="154.4" stroke="#1a1a1a" stroke-width="0.9"/>
<text x="0" y="0" font-size="8.6" text-anchor="end" fill="#111" transform="translate(44.1 157.84) scale(0.900 1)" style="stroke-width:0.2px">0</text>
<line x1="47.3" y1="132.6" x2="50.5" y2="132.6" stroke="#1a1a1a" stroke-width="0.9"/>
<text x="0" y="0" font-size="8.6" text-anchor="end" fill="#111" transform="translate(44.1 136.04) scale(0.900 1)" style="stroke-width:0.2px">30</text>
<line x1="47.3" y1="110.8" x2="50.5" y2="110.8" stroke="#1a1a1a" stroke-width="0.9"/>
<text x="0" y="0" font-size="8.6" text-anchor="end" fill="#111" transform="translate(44.1 114.24) scale(0.900 1)" style="stroke-width:0.2px">60</text>
<line x1="47.3" y1="89" x2="50.5" y2="89" stroke="#1a1a1a" stroke-width="0.9"/>
<text x="0" y="0" font-size="8.6" text-anchor="end" fill="#111" transform="translate(44.1 92.44) scale(0.900 1)" style="stroke-width:0.2px">90</text>
<line x1="47.3" y1="67.2" x2="50.5" y2="67.2" stroke="#1a1a1a" stroke-width="0.9"/>
<text x="0" y="0" font-size="8.6" text-anchor="end" fill="#111" transform="translate(44.1 70.64) scale(0.900 1)" style="stroke-width:0.2px">120</text>
<line x1="47.3" y1="45.4" x2="50.5" y2="45.4" stroke="#1a1a1a" stroke-width="0.9"/>
<text x="0" y="0" font-size="8.6" text-anchor="end" fill="#111" transform="translate(44.1 48.84) scale(0.900 1)" style="stroke-width:0.2px">150</text>
<line x1="47.3" y1="23.59" x2="50.5" y2="23.59" stroke="#1a1a1a" stroke-width="0.9"/>
<text x="0" y="0" font-size="8.6" text-anchor="end" fill="#111" transform="translate(44.1 27.03) scale(0.900 1)" style="stroke-width:0.2px">180</text>
<line x1="48.7" y1="143.5" x2="50.5" y2="143.5" stroke="#1a1a1a" stroke-width="0.8"/>
<line x1="48.7" y1="121.7" x2="50.5" y2="121.7" stroke="#1a1a1a" stroke-width="0.8"/>
<line x1="48.7" y1="99.9" x2="50.5" y2="99.9" stroke="#1a1a1a" stroke-width="0.8"/>
<line x1="48.7" y1="78.1" x2="50.5" y2="78.1" stroke="#1a1a1a" stroke-width="0.8"/>
<line x1="48.7" y1="56.3" x2="50.5" y2="56.3" stroke="#1a1a1a" stroke-width="0.8"/>
<line x1="48.7" y1="34.49" x2="50.5" y2="34.49" stroke="#1a1a1a" stroke-width="0.8"/>
<line x1="52.3" y1="157.3" x2="52.3" y2="160.3" stroke="#1a1a1a" stroke-width="0.9"/>
<text x="0" y="0" font-size="8.6" text-anchor="middle" fill="#111" transform="translate(52.3 171.31) scale(0.900 1)" style="stroke-width:0.2px">0</text>
<line x1="88.3" y1="157.3" x2="88.3" y2="160.3" stroke="#1a1a1a" stroke-width="0.9"/>
<text x="0" y="0" font-size="8.6" text-anchor="middle" fill="#111" transform="translate(88.3 171.31) scale(0.900 1)" style="stroke-width:0.2px">1000</text>
<line x1="124.3" y1="157.3" x2="124.3" y2="160.3" stroke="#1a1a1a" stroke-width="0.9"/>
<text x="0" y="0" font-size="8.6" text-anchor="middle" fill="#111" transform="translate(124.3 171.31) scale(0.900 1)" style="stroke-width:0.2px">2000</text>
<line x1="160.3" y1="157.3" x2="160.3" y2="160.3" stroke="#1a1a1a" stroke-width="0.9"/>
<text x="0" y="0" font-size="8.6" text-anchor="middle" fill="#111" transform="translate(160.3 171.31) scale(0.900 1)" style="stroke-width:0.2px">3000</text>
<line x1="196.3" y1="157.3" x2="196.3" y2="160.3" stroke="#1a1a1a" stroke-width="0.9"/>
<text x="0" y="0" font-size="8.6" text-anchor="middle" fill="#111" transform="translate(196.3 171.31) scale(0.900 1)" style="stroke-width:0.2px">4000</text>
<line x1="70.3" y1="157.3" x2="70.3" y2="158.9" stroke="#1a1a1a" stroke-width="0.8"/>
<line x1="106.3" y1="157.3" x2="106.3" y2="158.9" stroke="#1a1a1a" stroke-width="0.8"/>
<line x1="142.3" y1="157.3" x2="142.3" y2="158.9" stroke="#1a1a1a" stroke-width="0.8"/>
<line x1="178.3" y1="157.3" x2="178.3" y2="158.9" stroke="#1a1a1a" stroke-width="0.8"/>
<text x="0" y="0" font-size="9.8" text-anchor="middle" fill="#111" transform="translate(128.45 183) scale(0.920 1)">KO (nM)</text>
<text x="0" y="0" font-size="9.8" text-anchor="middle" fill="#111" transform="translate(25 88.65) rotate(-90) scale(0.955 1)">Rate (nM/min, x10<tspan dy="-3.8" font-size="6.6">−5</tspan><tspan dy="3.8">)</tspan></text>
<text x="0" y="0" font-size="8.9" text-anchor="start" fill="#111" transform="translate(206.5 31.61) scale(0.880 1)">Fluindione</text>
<line x1="208.3" y1="40.8" x2="218.9" y2="40.8" stroke="#5e3f1f" stroke-width="1"/>
<path d="M211.7 38.9L215.5 42.7M211.7 42.7L215.5 38.9" stroke="#5e3f1f" stroke-width="1.05" fill="none"/>
<text x="0" y="0" font-size="8.9" text-anchor="start" fill="#111" transform="translate(224.4 43.91) scale(0.880 1)">30 nM</text>
<line x1="208.3" y1="54" x2="218.9" y2="54" stroke="#522379" stroke-width="1"/>
<path d="M213.6 56.09L215.6 52.48L211.61 52.48Z" fill="#522379"/>
<text x="0" y="0" font-size="8.9" text-anchor="start" fill="#111" transform="translate(224.4 57.12) scale(0.880 1)">15 nM</text>
<line x1="208.3" y1="67.4" x2="218.9" y2="67.4" stroke="#22468c" stroke-width="1"/>
<path d="M213.6 65.31L215.6 68.92L211.61 68.92Z" fill="#22468c"/>
<text x="0" y="0" font-size="8.9" text-anchor="start" fill="#111" transform="translate(224.4 70.52) scale(0.880 1)">7.5 nM</text>
<line x1="208.3" y1="81" x2="218.9" y2="81" stroke="#55ab40" stroke-width="1"/>
<rect x="211.99" y="79.39" width="3.23" height="3.23" fill="#55ab40"/>
<text x="0" y="0" font-size="8.9" text-anchor="start" fill="#111" transform="translate(224.4 84.11) scale(0.880 1)">3.8 nM</text>
<line x1="208.3" y1="95.8" x2="218.9" y2="95.8" stroke="#9c5e22" stroke-width="1"/>
<path d="M213.6 93.61L215.5 95.8L213.6 97.98L211.7 95.8Z" fill="#9c5e22"/>
<text x="0" y="0" font-size="8.9" text-anchor="start" fill="#111" transform="translate(224.4 98.91) scale(0.880 1)">1.9 nM</text>
<line x1="208.3" y1="109.3" x2="218.9" y2="109.3" stroke="#e58f18" stroke-width="1"/>
<circle cx="213.6" cy="109.3" r="1.99" fill="#e58f18"/>
<text x="0" y="0" font-size="8.9" text-anchor="start" fill="#111" transform="translate(224.4 112.41) scale(0.880 1)">0.94 nM</text>
<line x1="208.3" y1="122" x2="218.9" y2="122" stroke="#b81a44" stroke-width="1"/>
<path d="M213.6 120.19L215.31 123.33L211.89 123.33Z" fill="#b81a44"/>
<text x="0" y="0" font-size="8.9" text-anchor="start" fill="#111" transform="translate(224.4 125.11) scale(0.880 1)">0 nM</text>
<path d="M310.3 155.6L310.3 155.6L310.3 155.6L310.3 155.6L310.3 155.6L310.3 155.6L310.3 155.59L310.3 155.59L310.31 155.59L310.31 155.58L310.31 155.58L310.32 155.57L310.32 155.56L310.33 155.55L310.34 155.54L310.35 155.52L310.36 155.5L310.37 155.48L310.38 155.46L310.4 155.44L310.41 155.41L310.43 155.38L310.45 155.35L310.47 155.32L310.49 155.28L310.52 155.24L310.54 155.19L310.57 155.14L310.6 155.09L310.64 155.03L310.67 154.97L310.71 154.91L310.75 154.84L310.8 154.77L310.84 154.69L310.89 154.61L310.95 154.53L311 154.44L311.06 154.35L311.12 154.25L311.19 154.14L311.26 154.04L311.33 153.92L311.4 153.81L311.48 153.68L311.56 153.55L311.65 153.42L311.74 153.28L311.83 153.14L311.93 152.99L312.03 152.84L312.14 152.68L312.25 152.52L312.36 152.35L312.48 152.18L312.61 152L312.73 151.81L312.87 151.63L313 151.43L313.15 151.23L313.29 151.03L313.45 150.82L313.6 150.61L313.77 150.39L313.93 150.17L314.11 149.94L314.29 149.71L314.47 149.48L314.66 149.24L314.85 148.99L315.05 148.75L315.26 148.5L315.47 148.24L315.69 147.98L315.92 147.72L316.15 147.45L316.38 147.18L316.63 146.91L316.88 146.63L317.13 146.35L317.4 146.07L317.67 145.79L317.94 145.5L318.23 145.21L318.52 144.92L318.81 144.63L319.12 144.33L319.43 144.04L319.75 143.74L320.07 143.44L320.41 143.13L320.75 142.83L321.09 142.53L321.45 142.22L321.81 141.92L322.18 141.61L322.56 141.3L322.95 141L323.35 140.69L323.75 140.38L324.16 140.07L324.58 139.76L325.01 139.46L325.45 139.15L325.89 138.84L326.35 138.54L326.81 138.23L327.28 137.93L327.76 137.62L328.25 137.32L328.75 137.02L329.26 136.72L329.77 136.42L330.3 136.12L330.84 135.82L331.38 135.53L331.94 135.24L332.5 134.94L333.08 134.65L333.66 134.37L334.25 134.08L334.86 133.8L335.47 133.51L336.09 133.23L336.73 132.96L337.37 132.68L338.03 132.41L338.69 132.14L339.37 131.87L340.06 131.6L340.75 131.34L341.46 131.07L342.18 130.81L342.91 130.56L343.65 130.3L344.41 130.05L345.17 129.8L345.94 129.55L346.73 129.31L347.53 129.07L348.34 128.83L349.16 128.59L349.99 128.36L350.83 128.12L351.69 127.89L352.56 127.67L353.44 127.44L354.33 127.22L355.24 127L356.15 126.79L357.08 126.57L358.03 126.36L358.98 126.15L359.95 125.95L360.93 125.74L361.92 125.54L362.93 125.34L363.94 125.15L364.98 124.95L366.02 124.76L367.08 124.57L368.15 124.39L369.23 124.2L370.33 124.02L371.44 123.84L372.57 123.67L373.71 123.49L374.86 123.32L376.03 123.15L377.21 122.98L378.4 122.82L379.61 122.65L380.83 122.49L382.07 122.33L383.32 122.18L384.59 122.02L385.87 121.87L387.17 121.72L388.48 121.57L389.8 121.43L391.14 121.28L392.5 121.14L393.87 121L395.25 120.86L396.65 120.72L398.07 120.59L399.5 120.46L400.94 120.33L402.41 120.2L403.88 120.07L405.38 119.94L406.89 119.82L408.41 119.7L409.95 119.58L411.51 119.46L413.08 119.34L414.67 119.23L416.28 119.11L417.9 119L419.54 118.89L421.19 118.78L422.87 118.68L424.55 118.57L426.26 118.46L427.98 118.36L429.72 118.26L431.48 118.16L433.25 118.06L435.04 117.96L436.85 117.87L438.67 117.77L440.52 117.68L442.38 117.59L444.25 117.5L446.15 117.41L448.06 117.32L449.99 117.23L451.94 117.15L453.91 117.06L455.9 116.98L457.9 116.9" fill="none" stroke="#5e3f1f" stroke-width="1.15"/>
<path d="M310.3 155.6L310.3 155.6L310.3 155.6L310.3 155.6L310.3 155.6L310.3 155.6L310.3 155.59L310.3 155.59L310.31 155.58L310.31 155.57L310.31 155.56L310.32 155.55L310.32 155.54L310.33 155.52L310.34 155.5L310.35 155.48L310.36 155.46L310.37 155.43L310.38 155.39L310.4 155.36L310.41 155.32L310.43 155.27L310.45 155.23L310.47 155.17L310.49 155.11L310.52 155.05L310.54 154.98L310.57 154.91L310.6 154.83L310.64 154.75L310.67 154.66L310.71 154.56L310.75 154.46L310.8 154.35L310.84 154.24L310.89 154.12L310.95 153.99L311 153.85L311.06 153.71L311.12 153.57L311.19 153.41L311.26 153.25L311.33 153.08L311.4 152.9L311.48 152.72L311.56 152.53L311.65 152.33L311.74 152.12L311.83 151.91L311.93 151.68L312.03 151.45L312.14 151.22L312.25 150.97L312.36 150.72L312.48 150.46L312.61 150.2L312.73 149.92L312.87 149.64L313 149.35L313.15 149.05L313.29 148.75L313.45 148.44L313.6 148.12L313.77 147.8L313.93 147.47L314.11 147.13L314.29 146.79L314.47 146.44L314.66 146.08L314.85 145.72L315.05 145.35L315.26 144.98L315.47 144.6L315.69 144.22L315.92 143.83L316.15 143.43L316.38 143.04L316.63 142.63L316.88 142.22L317.13 141.81L317.4 141.4L317.67 140.98L317.94 140.56L318.23 140.13L318.52 139.7L318.81 139.27L319.12 138.84L319.43 138.4L319.75 137.96L320.07 137.52L320.41 137.08L320.75 136.63L321.09 136.19L321.45 135.74L321.81 135.3L322.18 134.85L322.56 134.4L322.95 133.95L323.35 133.5L323.75 133.05L324.16 132.61L324.58 132.16L325.01 131.71L325.45 131.27L325.89 130.82L326.35 130.38L326.81 129.93L327.28 129.49L327.76 129.05L328.25 128.61L328.75 128.18L329.26 127.74L329.77 127.31L330.3 126.88L330.84 126.45L331.38 126.03L331.94 125.61L332.5 125.19L333.08 124.77L333.66 124.36L334.25 123.95L334.86 123.54L335.47 123.13L336.09 122.73L336.73 122.33L337.37 121.94L338.03 121.55L338.69 121.16L339.37 120.77L340.06 120.39L340.75 120.01L341.46 119.64L342.18 119.27L342.91 118.9L343.65 118.54L344.41 118.18L345.17 117.83L345.94 117.48L346.73 117.13L347.53 116.78L348.34 116.44L349.16 116.11L349.99 115.78L350.83 115.45L351.69 115.12L352.56 114.8L353.44 114.48L354.33 114.17L355.24 113.86L356.15 113.55L357.08 113.25L358.03 112.95L358.98 112.66L359.95 112.37L360.93 112.08L361.92 111.8L362.93 111.52L363.94 111.24L364.98 110.97L366.02 110.7L367.08 110.44L368.15 110.17L369.23 109.91L370.33 109.66L371.44 109.41L372.57 109.16L373.71 108.91L374.86 108.67L376.03 108.44L377.21 108.2L378.4 107.97L379.61 107.74L380.83 107.51L382.07 107.29L383.32 107.07L384.59 106.86L385.87 106.64L387.17 106.43L388.48 106.23L389.8 106.02L391.14 105.82L392.5 105.62L393.87 105.43L395.25 105.23L396.65 105.04L398.07 104.85L399.5 104.67L400.94 104.49L402.41 104.31L403.88 104.13L405.38 103.96L406.89 103.78L408.41 103.61L409.95 103.45L411.51 103.28L413.08 103.12L414.67 102.96L416.28 102.8L417.9 102.65L419.54 102.49L421.19 102.34L422.87 102.19L424.55 102.04L426.26 101.9L427.98 101.76L429.72 101.62L431.48 101.48L433.25 101.34L435.04 101.2L436.85 101.07L438.67 100.94L440.52 100.81L442.38 100.68L444.25 100.56L446.15 100.43L448.06 100.31L449.99 100.19L451.94 100.07L453.91 99.96L455.9 99.84L457.9 99.73" fill="none" stroke="#522379" stroke-width="1.15"/>
<path d="M310.3 155.6L310.3 155.6L310.3 155.6L310.3 155.6L310.3 155.6L310.3 155.59L310.3 155.58L310.3 155.58L310.31 155.56L310.31 155.55L310.31 155.53L310.32 155.5L310.32 155.48L310.33 155.44L310.34 155.4L310.35 155.36L310.36 155.31L310.37 155.25L310.38 155.18L310.4 155.11L310.41 155.03L310.43 154.94L310.45 154.84L310.47 154.73L310.49 154.62L310.52 154.49L310.54 154.35L310.57 154.21L310.6 154.05L310.64 153.88L310.67 153.7L310.71 153.51L310.75 153.31L310.8 153.09L310.84 152.87L310.89 152.63L310.95 152.38L311 152.11L311.06 151.83L311.12 151.54L311.19 151.24L311.26 150.93L311.33 150.6L311.4 150.26L311.48 149.9L311.56 149.53L311.65 149.15L311.74 148.76L311.83 148.35L311.93 147.94L312.03 147.5L312.14 147.06L312.25 146.61L312.36 146.14L312.48 145.66L312.61 145.17L312.73 144.67L312.87 144.16L313 143.64L313.15 143.1L313.29 142.56L313.45 142.01L313.6 141.45L313.77 140.88L313.93 140.31L314.11 139.72L314.29 139.13L314.47 138.53L314.66 137.92L314.85 137.31L315.05 136.69L315.26 136.07L315.47 135.44L315.69 134.81L315.92 134.17L316.15 133.53L316.38 132.89L316.63 132.24L316.88 131.6L317.13 130.95L317.4 130.3L317.67 129.64L317.94 128.99L318.23 128.34L318.52 127.69L318.81 127.03L319.12 126.38L319.43 125.73L319.75 125.08L320.07 124.44L320.41 123.79L320.75 123.15L321.09 122.51L321.45 121.88L321.81 121.25L322.18 120.62L322.56 120L322.95 119.38L323.35 118.76L323.75 118.15L324.16 117.54L324.58 116.94L325.01 116.35L325.45 115.75L325.89 115.17L326.35 114.59L326.81 114.02L327.28 113.45L327.76 112.89L328.25 112.33L328.75 111.78L329.26 111.24L329.77 110.7L330.3 110.17L330.84 109.64L331.38 109.13L331.94 108.62L332.5 108.11L333.08 107.61L333.66 107.12L334.25 106.63L334.86 106.16L335.47 105.68L336.09 105.22L336.73 104.76L337.37 104.31L338.03 103.86L338.69 103.42L339.37 102.99L340.06 102.56L340.75 102.14L341.46 101.73L342.18 101.32L342.91 100.92L343.65 100.52L344.41 100.14L345.17 99.75L345.94 99.38L346.73 99L347.53 98.64L348.34 98.28L349.16 97.93L349.99 97.58L350.83 97.24L351.69 96.9L352.56 96.57L353.44 96.24L354.33 95.92L355.24 95.61L356.15 95.3L357.08 94.99L358.03 94.69L358.98 94.4L359.95 94.11L360.93 93.82L361.92 93.54L362.93 93.26L363.94 92.99L364.98 92.73L366.02 92.46L367.08 92.21L368.15 91.95L369.23 91.7L370.33 91.46L371.44 91.22L372.57 90.98L373.71 90.75L374.86 90.52L376.03 90.29L377.21 90.07L378.4 89.86L379.61 89.64L380.83 89.43L382.07 89.22L383.32 89.02L384.59 88.82L385.87 88.62L387.17 88.43L388.48 88.24L389.8 88.05L391.14 87.87L392.5 87.69L393.87 87.51L395.25 87.34L396.65 87.17L398.07 87L399.5 86.83L400.94 86.67L402.41 86.51L403.88 86.35L405.38 86.19L406.89 86.04L408.41 85.89L409.95 85.74L411.51 85.6L413.08 85.46L414.67 85.31L416.28 85.18L417.9 85.04L419.54 84.91L421.19 84.77L422.87 84.64L424.55 84.52L426.26 84.39L427.98 84.27L429.72 84.15L431.48 84.03L433.25 83.91L435.04 83.79L436.85 83.68L438.67 83.57L440.52 83.46L442.38 83.35L444.25 83.24L446.15 83.14L448.06 83.03L449.99 82.93L451.94 82.83L453.91 82.73L455.9 82.64L457.9 82.54" fill="none" stroke="#22468c" stroke-width="1.15"/>
<path d="M310.3 155.6L310.3 155.6L310.3 155.6L310.3 155.6L310.3 155.59L310.3 155.58L310.3 155.57L310.3 155.56L310.31 155.53L310.31 155.51L310.31 155.47L310.32 155.43L310.32 155.38L310.33 155.32L310.34 155.25L310.35 155.17L310.36 155.08L310.37 154.97L310.38 154.86L310.4 154.73L310.41 154.58L310.43 154.42L310.45 154.25L310.47 154.06L310.49 153.86L310.52 153.63L310.54 153.4L310.57 153.14L310.6 152.86L310.64 152.57L310.67 152.26L310.71 151.93L310.75 151.58L310.8 151.21L310.84 150.83L310.89 150.42L310.95 149.99L311 149.55L311.06 149.09L311.12 148.6L311.19 148.1L311.26 147.58L311.33 147.04L311.4 146.48L311.48 145.91L311.56 145.31L311.65 144.71L311.74 144.08L311.83 143.44L311.93 142.78L312.03 142.11L312.14 141.43L312.25 140.73L312.36 140.02L312.48 139.3L312.61 138.57L312.73 137.82L312.87 137.07L313 136.31L313.15 135.54L313.29 134.76L313.45 133.98L313.6 133.19L313.77 132.4L313.93 131.6L314.11 130.8L314.29 129.99L314.47 129.19L314.66 128.38L314.85 127.58L315.05 126.77L315.26 125.96L315.47 125.16L315.69 124.36L315.92 123.56L316.15 122.76L316.38 121.97L316.63 121.19L316.88 120.4L317.13 119.63L317.4 118.86L317.67 118.09L317.94 117.33L318.23 116.58L318.52 115.84L318.81 115.11L319.12 114.38L319.43 113.66L319.75 112.95L320.07 112.25L320.41 111.55L320.75 110.87L321.09 110.2L321.45 109.53L321.81 108.87L322.18 108.23L322.56 107.59L322.95 106.96L323.35 106.35L323.75 105.74L324.16 105.14L324.58 104.55L325.01 103.98L325.45 103.41L325.89 102.85L326.35 102.3L326.81 101.76L327.28 101.23L327.76 100.71L328.25 100.2L328.75 99.7L329.26 99.21L329.77 98.72L330.3 98.25L330.84 97.78L331.38 97.33L331.94 96.88L332.5 96.44L333.08 96.01L333.66 95.59L334.25 95.17L334.86 94.77L335.47 94.37L336.09 93.98L336.73 93.6L337.37 93.22L338.03 92.85L338.69 92.49L339.37 92.14L340.06 91.8L340.75 91.46L341.46 91.12L342.18 90.8L342.91 90.48L343.65 90.17L344.41 89.86L345.17 89.56L345.94 89.27L346.73 88.98L347.53 88.7L348.34 88.42L349.16 88.15L349.99 87.89L350.83 87.63L351.69 87.37L352.56 87.12L353.44 86.88L354.33 86.64L355.24 86.4L356.15 86.17L357.08 85.95L358.03 85.73L358.98 85.51L359.95 85.3L360.93 85.09L361.92 84.89L362.93 84.69L363.94 84.49L364.98 84.3L366.02 84.11L367.08 83.93L368.15 83.75L369.23 83.57L370.33 83.4L371.44 83.23L372.57 83.06L373.71 82.89L374.86 82.73L376.03 82.58L377.21 82.42L378.4 82.27L379.61 82.12L380.83 81.98L382.07 81.83L383.32 81.69L384.59 81.56L385.87 81.42L387.17 81.29L388.48 81.16L389.8 81.03L391.14 80.91L392.5 80.79L393.87 80.66L395.25 80.55L396.65 80.43L398.07 80.32L399.5 80.21L400.94 80.1L402.41 79.99L403.88 79.88L405.38 79.78L406.89 79.68L408.41 79.58L409.95 79.48L411.51 79.38L413.08 79.29L414.67 79.2L416.28 79.1L417.9 79.01L419.54 78.93L421.19 78.84L422.87 78.75L424.55 78.67L426.26 78.59L427.98 78.51L429.72 78.43L431.48 78.35L433.25 78.28L435.04 78.2L436.85 78.13L438.67 78.05L440.52 77.98L442.38 77.91L444.25 77.84L446.15 77.78L448.06 77.71L449.99 77.64L451.94 77.58L453.91 77.52L455.9 77.45L457.9 77.39" fill="none" stroke="#55ab40" stroke-width="1.15"/>
<path d="M310.3 155.6L310.3 155.6L310.3 155.6L310.3 155.59L310.3 155.59L310.3 155.57L310.3 155.55L310.3 155.52L310.31 155.48L310.31 155.44L310.31 155.38L310.32 155.3L310.32 155.21L310.33 155.11L310.34 154.99L310.35 154.85L310.36 154.69L310.37 154.51L310.38 154.31L310.4 154.08L310.41 153.83L310.43 153.56L310.45 153.26L310.47 152.94L310.49 152.59L310.52 152.21L310.54 151.81L310.57 151.37L310.6 150.91L310.64 150.42L310.67 149.9L310.71 149.35L310.75 148.77L310.8 148.16L310.84 147.52L310.89 146.86L310.95 146.16L311 145.44L311.06 144.7L311.12 143.93L311.19 143.13L311.26 142.31L311.33 141.46L311.4 140.59L311.48 139.71L311.56 138.8L311.65 137.87L311.74 136.93L311.83 135.97L311.93 134.99L312.03 134.01L312.14 133L312.25 131.99L312.36 130.97L312.48 129.95L312.61 128.91L312.73 127.87L312.87 126.83L313 125.78L313.15 124.73L313.29 123.69L313.45 122.64L313.6 121.6L313.77 120.55L313.93 119.52L314.11 118.49L314.29 117.46L314.47 116.44L314.66 115.43L314.85 114.43L315.05 113.44L315.26 112.46L315.47 111.49L315.69 110.53L315.92 109.58L316.15 108.65L316.38 107.72L316.63 106.81L316.88 105.92L317.13 105.04L317.4 104.17L317.67 103.32L317.94 102.48L318.23 101.65L318.52 100.84L318.81 100.05L319.12 99.27L319.43 98.5L319.75 97.75L320.07 97.01L320.41 96.29L320.75 95.58L321.09 94.89L321.45 94.21L321.81 93.55L322.18 92.9L322.56 92.26L322.95 91.64L323.35 91.03L323.75 90.43L324.16 89.85L324.58 89.28L325.01 88.72L325.45 88.18L325.89 87.65L326.35 87.13L326.81 86.62L327.28 86.12L327.76 85.64L328.25 85.16L328.75 84.7L329.26 84.25L329.77 83.81L330.3 83.38L330.84 82.95L331.38 82.54L331.94 82.14L332.5 81.75L333.08 81.37L333.66 80.99L334.25 80.63L334.86 80.27L335.47 79.92L336.09 79.58L336.73 79.25L337.37 78.92L338.03 78.6L338.69 78.29L339.37 77.99L340.06 77.7L340.75 77.41L341.46 77.13L342.18 76.85L342.91 76.58L343.65 76.32L344.41 76.06L345.17 75.81L345.94 75.57L346.73 75.33L347.53 75.09L348.34 74.86L349.16 74.64L349.99 74.42L350.83 74.21L351.69 74L352.56 73.79L353.44 73.6L354.33 73.4L355.24 73.21L356.15 73.02L357.08 72.84L358.03 72.66L358.98 72.49L359.95 72.32L360.93 72.15L361.92 71.99L362.93 71.83L363.94 71.67L364.98 71.52L366.02 71.37L367.08 71.22L368.15 71.08L369.23 70.94L370.33 70.8L371.44 70.67L372.57 70.54L373.71 70.41L374.86 70.28L376.03 70.16L377.21 70.04L378.4 69.92L379.61 69.8L380.83 69.69L382.07 69.58L383.32 69.47L384.59 69.36L385.87 69.26L387.17 69.16L388.48 69.05L389.8 68.96L391.14 68.86L392.5 68.77L393.87 68.67L395.25 68.58L396.65 68.49L398.07 68.41L399.5 68.32L400.94 68.24L402.41 68.15L403.88 68.07L405.38 67.99L406.89 67.92L408.41 67.84L409.95 67.76L411.51 67.69L413.08 67.62L414.67 67.55L416.28 67.48L417.9 67.41L419.54 67.34L421.19 67.28L422.87 67.21L424.55 67.15L426.26 67.09L427.98 67.03L429.72 66.97L431.48 66.91L433.25 66.85L435.04 66.8L436.85 66.74L438.67 66.68L440.52 66.63L442.38 66.58L444.25 66.53L446.15 66.48L448.06 66.43L449.99 66.38L451.94 66.33L453.91 66.28L455.9 66.23L457.9 66.19" fill="none" stroke="#9c5e22" stroke-width="1.15"/>
<path d="M310.3 155.6L310.3 155.6L310.3 155.6L310.3 155.59L310.3 155.57L310.3 155.54L310.3 155.49L310.3 155.42L310.31 155.34L310.31 155.23L310.31 155.09L310.32 154.92L310.32 154.72L310.33 154.48L310.34 154.21L310.35 153.89L310.36 153.54L310.37 153.14L310.38 152.69L310.4 152.19L310.41 151.65L310.43 151.05L310.45 150.4L310.47 149.7L310.49 148.95L310.52 148.15L310.54 147.29L310.57 146.38L310.6 145.42L310.64 144.41L310.67 143.35L310.71 142.25L310.75 141.1L310.8 139.9L310.84 138.67L310.89 137.4L310.95 136.09L311 134.75L311.06 133.38L311.12 131.99L311.19 130.57L311.26 129.13L311.33 127.67L311.4 126.2L311.48 124.72L311.56 123.23L311.65 121.73L311.74 120.24L311.83 118.74L311.93 117.25L312.03 115.76L312.14 114.28L312.25 112.81L312.36 111.36L312.48 109.92L312.61 108.49L312.73 107.08L312.87 105.7L313 104.33L313.15 102.98L313.29 101.66L313.45 100.36L313.6 99.09L313.77 97.84L313.93 96.61L314.11 95.41L314.29 94.24L314.47 93.09L314.66 91.97L314.85 90.88L315.05 89.82L315.26 88.78L315.47 87.76L315.69 86.78L315.92 85.81L316.15 84.88L316.38 83.97L316.63 83.08L316.88 82.22L317.13 81.38L317.4 80.57L317.67 79.78L317.94 79.01L318.23 78.26L318.52 77.53L318.81 76.83L319.12 76.14L319.43 75.48L319.75 74.84L320.07 74.21L320.41 73.6L320.75 73.01L321.09 72.44L321.45 71.88L321.81 71.34L322.18 70.82L322.56 70.31L322.95 69.82L323.35 69.34L323.75 68.88L324.16 68.43L324.58 67.99L325.01 67.57L325.45 67.15L325.89 66.75L326.35 66.36L326.81 65.99L327.28 65.62L327.76 65.27L328.25 64.92L328.75 64.59L329.26 64.26L329.77 63.94L330.3 63.64L330.84 63.34L331.38 63.05L331.94 62.76L332.5 62.49L333.08 62.22L333.66 61.97L334.25 61.71L334.86 61.47L335.47 61.23L336.09 61L336.73 60.77L337.37 60.55L338.03 60.34L338.69 60.13L339.37 59.93L340.06 59.74L340.75 59.54L341.46 59.36L342.18 59.18L342.91 59L343.65 58.83L344.41 58.66L345.17 58.5L345.94 58.34L346.73 58.18L347.53 58.03L348.34 57.89L349.16 57.74L349.99 57.6L350.83 57.47L351.69 57.33L352.56 57.2L353.44 57.08L354.33 56.95L355.24 56.83L356.15 56.72L357.08 56.6L358.03 56.49L358.98 56.38L359.95 56.28L360.93 56.17L361.92 56.07L362.93 55.97L363.94 55.87L364.98 55.78L366.02 55.69L367.08 55.6L368.15 55.51L369.23 55.42L370.33 55.34L371.44 55.26L372.57 55.18L373.71 55.1L374.86 55.02L376.03 54.95L377.21 54.87L378.4 54.8L379.61 54.73L380.83 54.66L382.07 54.59L383.32 54.53L384.59 54.46L385.87 54.4L387.17 54.34L388.48 54.28L389.8 54.22L391.14 54.16L392.5 54.1L393.87 54.05L395.25 54L396.65 53.94L398.07 53.89L399.5 53.84L400.94 53.79L402.41 53.74L403.88 53.69L405.38 53.64L406.89 53.6L408.41 53.55L409.95 53.51L411.51 53.47L413.08 53.42L414.67 53.38L416.28 53.34L417.9 53.3L419.54 53.26L421.19 53.22L422.87 53.18L424.55 53.15L426.26 53.11L427.98 53.07L429.72 53.04L431.48 53.01L433.25 52.97L435.04 52.94L436.85 52.91L438.67 52.87L440.52 52.84L442.38 52.81L444.25 52.78L446.15 52.75L448.06 52.72L449.99 52.69L451.94 52.67L453.91 52.64L455.9 52.61L457.9 52.58" fill="none" stroke="#e58f18" stroke-width="1.15"/>
<path d="M310.3 155.6L310.3 155.6L310.3 155.59L310.3 155.58L310.3 155.55L310.3 155.5L310.3 155.43L310.3 155.33L310.31 155.2L310.31 155.03L310.31 154.82L310.32 154.56L310.32 154.26L310.33 153.9L310.34 153.48L310.35 153.01L310.36 152.47L310.37 151.86L310.38 151.19L310.4 150.45L310.41 149.64L310.43 148.76L310.45 147.8L310.47 146.77L310.49 145.67L310.52 144.51L310.54 143.27L310.57 141.97L310.6 140.6L310.64 139.17L310.67 137.69L310.71 136.15L310.75 134.56L310.8 132.93L310.84 131.26L310.89 129.55L310.95 127.8L311 126.04L311.06 124.25L311.12 122.44L311.19 120.62L311.26 118.79L311.33 116.96L311.4 115.13L311.48 113.3L311.56 111.49L311.65 109.68L311.74 107.89L311.83 106.12L311.93 104.37L312.03 102.65L312.14 100.95L312.25 99.28L312.36 97.64L312.48 96.03L312.61 94.45L312.73 92.91L312.87 91.4L313 89.93L313.15 88.49L313.29 87.09L313.45 85.73L313.6 84.4L313.77 83.11L313.93 81.85L314.11 80.63L314.29 79.45L314.47 78.3L314.66 77.18L314.85 76.1L315.05 75.06L315.26 74.04L315.47 73.06L315.69 72.1L315.92 71.18L316.15 70.29L316.38 69.43L316.63 68.59L316.88 67.78L317.13 67L317.4 66.24L317.67 65.51L317.94 64.8L318.23 64.12L318.52 63.46L318.81 62.82L319.12 62.2L319.43 61.6L319.75 61.02L320.07 60.46L320.41 59.92L320.75 59.4L321.09 58.89L321.45 58.4L321.81 57.92L322.18 57.47L322.56 57.02L322.95 56.59L323.35 56.18L323.75 55.77L324.16 55.38L324.58 55.01L325.01 54.64L325.45 54.29L325.89 53.94L326.35 53.61L326.81 53.29L327.28 52.98L327.76 52.68L328.25 52.39L328.75 52.1L329.26 51.83L329.77 51.56L330.3 51.3L330.84 51.05L331.38 50.81L331.94 50.57L332.5 50.34L333.08 50.12L333.66 49.9L334.25 49.69L334.86 49.49L335.47 49.29L336.09 49.1L336.73 48.91L337.37 48.73L338.03 48.56L338.69 48.39L339.37 48.22L340.06 48.06L340.75 47.9L341.46 47.75L342.18 47.6L342.91 47.46L343.65 47.31L344.41 47.18L345.17 47.04L345.94 46.91L346.73 46.79L347.53 46.67L348.34 46.55L349.16 46.43L349.99 46.32L350.83 46.2L351.69 46.1L352.56 45.99L353.44 45.89L354.33 45.79L355.24 45.69L356.15 45.6L357.08 45.5L358.03 45.41L358.98 45.33L359.95 45.24L360.93 45.16L361.92 45.08L362.93 45L363.94 44.92L364.98 44.84L366.02 44.77L367.08 44.69L368.15 44.62L369.23 44.55L370.33 44.49L371.44 44.42L372.57 44.36L373.71 44.29L374.86 44.23L376.03 44.17L377.21 44.11L378.4 44.06L379.61 44L380.83 43.94L382.07 43.89L383.32 43.84L384.59 43.79L385.87 43.74L387.17 43.69L388.48 43.64L389.8 43.59L391.14 43.55L392.5 43.5L393.87 43.46L395.25 43.41L396.65 43.37L398.07 43.33L399.5 43.29L400.94 43.25L402.41 43.21L403.88 43.17L405.38 43.13L406.89 43.1L408.41 43.06L409.95 43.03L411.51 42.99L413.08 42.96L414.67 42.92L416.28 42.89L417.9 42.86L419.54 42.83L421.19 42.8L422.87 42.77L424.55 42.74L426.26 42.71L427.98 42.68L429.72 42.65L431.48 42.63L433.25 42.6L435.04 42.57L436.85 42.55L438.67 42.52L440.52 42.5L442.38 42.47L444.25 42.45L446.15 42.43L448.06 42.4L449.99 42.38L451.94 42.36L453.91 42.34L455.9 42.31L457.9 42.29" fill="none" stroke="#b81a44" stroke-width="1.15"/>
<path d="M308.88 152.64L312.88 156.64M308.88 156.64L312.88 152.64" stroke="#5e3f1f" stroke-width="1.05" fill="none"/>
<path d="M309.45 151.73L313.45 155.73M309.45 155.73L313.45 151.73" stroke="#5e3f1f" stroke-width="1.05" fill="none"/>
<path d="M310.61 150L314.61 154M310.61 154L314.61 150" stroke="#5e3f1f" stroke-width="1.05" fill="none"/>
<path d="M312.91 148.82L316.91 152.82M312.91 152.82L316.91 148.82" stroke="#5e3f1f" stroke-width="1.05" fill="none"/>
<path d="M317.53 144.64L321.53 148.64M317.53 148.64L321.53 144.64" stroke="#5e3f1f" stroke-width="1.05" fill="none"/>
<path d="M326.75 136.22L330.75 140.22M326.75 140.22L330.75 136.22" stroke="#5e3f1f" stroke-width="1.05" fill="none"/>
<path d="M345.2 127.47L349.2 131.47M345.2 131.47L349.2 127.47" stroke="#5e3f1f" stroke-width="1.05" fill="none"/>
<path d="M382.1 120.68L386.1 124.68M382.1 124.68L386.1 120.68" stroke="#5e3f1f" stroke-width="1.05" fill="none"/>
<path d="M455.9 114.5L459.9 118.5M455.9 118.5L459.9 114.5" stroke="#5e3f1f" stroke-width="1.05" fill="none"/>
<path d="M310.88 156.36L312.98 152.56L308.78 152.56Z" fill="#522379"/>
<path d="M311.45 154.98L313.55 151.18L309.35 151.18Z" fill="#522379"/>
<path d="M312.61 152.4L314.71 148.6L310.51 148.6Z" fill="#522379"/>
<path d="M314.91 148.21L317.01 144.41L312.81 144.41Z" fill="#522379"/>
<path d="M319.53 141.57L321.63 137.77L317.43 137.77Z" fill="#522379"/>
<path d="M328.75 132.58L330.85 128.78L326.65 128.78Z" fill="#522379"/>
<path d="M347.2 120.52L349.3 116.72L345.1 116.72Z" fill="#522379"/>
<path d="M384.1 107.34L386.2 103.54L382 103.54Z" fill="#522379"/>
<path d="M457.9 102.83L460 99.03L455.8 99.03Z" fill="#522379"/>
<path d="M310.88 150.52L312.98 154.32L308.78 154.32Z" fill="#22468c"/>
<path d="M311.45 147.83L313.55 151.63L309.35 151.63Z" fill="#22468c"/>
<path d="M312.61 142.97L314.71 146.77L310.51 146.77Z" fill="#22468c"/>
<path d="M314.91 138.43L317.01 142.23L312.81 142.23Z" fill="#22468c"/>
<path d="M319.53 129.33L321.63 133.13L317.43 133.13Z" fill="#22468c"/>
<path d="M328.75 114.28L330.85 118.08L326.65 118.08Z" fill="#22468c"/>
<path d="M347.2 105.29L349.3 109.09L345.1 109.09Z" fill="#22468c"/>
<path d="M384.1 89.4L386.2 93.2L382 93.2Z" fill="#22468c"/>
<path d="M457.9 79.04L460 82.84L455.8 82.84Z" fill="#22468c"/>
<rect x="309.18" y="148.87" width="3.4" height="3.4" fill="#55ab40"/>
<rect x="309.75" y="144.41" width="3.4" height="3.4" fill="#55ab40"/>
<rect x="310.91" y="136.87" width="3.4" height="3.4" fill="#55ab40"/>
<rect x="313.21" y="129.34" width="3.4" height="3.4" fill="#55ab40"/>
<rect x="317.83" y="121.44" width="3.4" height="3.4" fill="#55ab40"/>
<rect x="327.05" y="108.2" width="3.4" height="3.4" fill="#55ab40"/>
<rect x="345.5" y="96.11" width="3.4" height="3.4" fill="#55ab40"/>
<rect x="382.4" y="80.41" width="3.4" height="3.4" fill="#55ab40"/>
<rect x="456.2" y="71.69" width="3.4" height="3.4" fill="#55ab40"/>
<path d="M310.88 144.81L312.88 147.11L310.88 149.41L308.88 147.11Z" fill="#9c5e22"/>
<path d="M311.45 129.92L313.45 132.22L311.45 134.52L309.45 132.22Z" fill="#9c5e22"/>
<path d="M312.61 123.81L314.61 126.11L312.61 128.41L310.61 126.11Z" fill="#9c5e22"/>
<path d="M314.91 112.94L316.91 115.24L314.91 117.54L312.91 115.24Z" fill="#9c5e22"/>
<path d="M319.53 100.97L321.53 103.27L319.53 105.57L317.53 103.27Z" fill="#9c5e22"/>
<path d="M328.75 93.2L330.75 95.5L328.75 97.8L326.75 95.5Z" fill="#9c5e22"/>
<path d="M347.2 79.89L349.2 82.19L347.2 84.49L345.2 82.19Z" fill="#9c5e22"/>
<path d="M384.1 65.3L386.1 67.6L384.1 69.9L382.1 67.6Z" fill="#9c5e22"/>
<path d="M457.9 55.79L459.9 58.09L457.9 60.39L455.9 58.09Z" fill="#9c5e22"/>
<circle cx="310.88" cy="132.17" r="2.1" fill="#e58f18"/>
<circle cx="311.45" cy="119.53" r="2.1" fill="#e58f18"/>
<circle cx="312.61" cy="108.49" r="2.1" fill="#e58f18"/>
<circle cx="314.91" cy="93.56" r="2.1" fill="#e58f18"/>
<circle cx="319.53" cy="84.08" r="2.1" fill="#e58f18"/>
<circle cx="328.75" cy="72.09" r="2.1" fill="#e58f18"/>
<circle cx="347.2" cy="58.59" r="2.1" fill="#e58f18"/>
<circle cx="384.1" cy="50.39" r="2.1" fill="#e58f18"/>
<circle cx="457.9" cy="46.28" r="2.1" fill="#e58f18"/>
<path d="M310.88 128.28L312.68 131.58L309.08 131.58Z" fill="#b81a44"/>
<path d="M311.45 112.03L313.25 115.33L309.65 115.33Z" fill="#b81a44"/>
<path d="M312.61 92.55L314.41 95.85L310.81 95.85Z" fill="#b81a44"/>
<path d="M314.91 70.79L316.71 74.09L313.11 74.09Z" fill="#b81a44"/>
<path d="M319.53 58.82L321.33 62.12L317.73 62.12Z" fill="#b81a44"/>
<path d="M328.75 51.5L330.55 54.8L326.95 54.8Z" fill="#b81a44"/>
<path d="M347.2 45.82L349 49.12L345.4 49.12Z" fill="#b81a44"/>
<path d="M384.1 39.21L385.9 42.51L382.3 42.51Z" fill="#b81a44"/>
<path d="M457.9 38.99L459.7 42.29L456.1 42.29Z" fill="#b81a44"/>
<line x1="308.4" y1="21.8" x2="308.4" y2="159.3" stroke="#1a1a1a" stroke-width="1.25"/>
<line x1="307.8" y1="158.7" x2="460.8" y2="158.7" stroke="#1a1a1a" stroke-width="1.25"/>
<line x1="305.2" y1="155.6" x2="308.4" y2="155.6" stroke="#1a1a1a" stroke-width="0.9"/>
<text x="0" y="0" font-size="8.6" text-anchor="end" fill="#111" transform="translate(302 159.04) scale(0.900 1)" style="stroke-width:0.2px">0</text>
<line x1="305.2" y1="133.83" x2="308.4" y2="133.83" stroke="#1a1a1a" stroke-width="0.9"/>
<text x="0" y="0" font-size="8.6" text-anchor="end" fill="#111" transform="translate(302 137.27) scale(0.900 1)" style="stroke-width:0.2px">30</text>
<line x1="305.2" y1="112.06" x2="308.4" y2="112.06" stroke="#1a1a1a" stroke-width="0.9"/>
<text x="0" y="0" font-size="8.6" text-anchor="end" fill="#111" transform="translate(302 115.5) scale(0.900 1)" style="stroke-width:0.2px">60</text>
<line x1="305.2" y1="90.3" x2="308.4" y2="90.3" stroke="#1a1a1a" stroke-width="0.9"/>
<text x="0" y="0" font-size="8.6" text-anchor="end" fill="#111" transform="translate(302 93.74) scale(0.900 1)" style="stroke-width:0.2px">90</text>
<line x1="305.2" y1="68.53" x2="308.4" y2="68.53" stroke="#1a1a1a" stroke-width="0.9"/>
<text x="0" y="0" font-size="8.6" text-anchor="end" fill="#111" transform="translate(302 71.97) scale(0.900 1)" style="stroke-width:0.2px">120</text>
<line x1="305.2" y1="46.76" x2="308.4" y2="46.76" stroke="#1a1a1a" stroke-width="0.9"/>
<text x="0" y="0" font-size="8.6" text-anchor="end" fill="#111" transform="translate(302 50.2) scale(0.900 1)" style="stroke-width:0.2px">150</text>
<line x1="305.2" y1="24.99" x2="308.4" y2="24.99" stroke="#1a1a1a" stroke-width="0.9"/>
<text x="0" y="0" font-size="8.6" text-anchor="end" fill="#111" transform="translate(302 28.43) scale(0.900 1)" style="stroke-width:0.2px">180</text>
<line x1="306.6" y1="144.72" x2="308.4" y2="144.72" stroke="#1a1a1a" stroke-width="0.8"/>
<line x1="306.6" y1="122.95" x2="308.4" y2="122.95" stroke="#1a1a1a" stroke-width="0.8"/>
<line x1="306.6" y1="101.18" x2="308.4" y2="101.18" stroke="#1a1a1a" stroke-width="0.8"/>
<line x1="306.6" y1="79.41" x2="308.4" y2="79.41" stroke="#1a1a1a" stroke-width="0.8"/>
<line x1="306.6" y1="57.64" x2="308.4" y2="57.64" stroke="#1a1a1a" stroke-width="0.8"/>
<line x1="306.6" y1="35.88" x2="308.4" y2="35.88" stroke="#1a1a1a" stroke-width="0.8"/>
<line x1="310.3" y1="158.7" x2="310.3" y2="161.7" stroke="#1a1a1a" stroke-width="0.9"/>
<text x="0" y="0" font-size="8.6" text-anchor="middle" fill="#111" transform="translate(310.3 172.71) scale(0.900 1)" style="stroke-width:0.2px">0</text>
<line x1="347.2" y1="158.7" x2="347.2" y2="161.7" stroke="#1a1a1a" stroke-width="0.9"/>
<text x="0" y="0" font-size="8.6" text-anchor="middle" fill="#111" transform="translate(347.2 172.71) scale(0.900 1)" style="stroke-width:0.2px">1000</text>
<line x1="384.1" y1="158.7" x2="384.1" y2="161.7" stroke="#1a1a1a" stroke-width="0.9"/>
<text x="0" y="0" font-size="8.6" text-anchor="middle" fill="#111" transform="translate(384.1 172.71) scale(0.900 1)" style="stroke-width:0.2px">2000</text>
<line x1="421" y1="158.7" x2="421" y2="161.7" stroke="#1a1a1a" stroke-width="0.9"/>
<text x="0" y="0" font-size="8.6" text-anchor="middle" fill="#111" transform="translate(421 172.71) scale(0.900 1)" style="stroke-width:0.2px">3000</text>
<line x1="457.9" y1="158.7" x2="457.9" y2="161.7" stroke="#1a1a1a" stroke-width="0.9"/>
<text x="0" y="0" font-size="8.6" text-anchor="middle" fill="#111" transform="translate(457.9 172.71) scale(0.900 1)" style="stroke-width:0.2px">4000</text>
<line x1="328.75" y1="158.7" x2="328.75" y2="160.3" stroke="#1a1a1a" stroke-width="0.8"/>
<line x1="365.65" y1="158.7" x2="365.65" y2="160.3" stroke="#1a1a1a" stroke-width="0.8"/>
<line x1="402.55" y1="158.7" x2="402.55" y2="160.3" stroke="#1a1a1a" stroke-width="0.8"/>
<line x1="439.45" y1="158.7" x2="439.45" y2="160.3" stroke="#1a1a1a" stroke-width="0.8"/>
<text x="0" y="0" font-size="9.8" text-anchor="middle" fill="#111" transform="translate(384.9 185.6) scale(0.920 1)">KO (nM)</text>
<text x="0" y="0" font-size="9.8" text-anchor="middle" fill="#111" transform="translate(283.8 90.1) rotate(-90) scale(0.924 1)">Rate (nM/min, X10<tspan dy="-3.8" font-size="6.6">−5</tspan><tspan dy="3.8">)</tspan></text>
<text x="0" y="0" font-size="8.9" text-anchor="start" fill="#111" transform="translate(473.2 32.02) scale(0.880 1)">Warfarin</text>
<line x1="469.4" y1="40.8" x2="479.8" y2="40.8" stroke="#5e3f1f" stroke-width="1"/>
<path d="M472.7 38.9L476.5 42.7M472.7 42.7L476.5 38.9" stroke="#5e3f1f" stroke-width="1.05" fill="none"/>
<text x="0" y="0" font-size="8.9" text-anchor="start" fill="#111" transform="translate(482.7 43.91) scale(0.880 1)">20 nM</text>
<line x1="469.4" y1="54" x2="479.8" y2="54" stroke="#522379" stroke-width="1"/>
<path d="M474.6 56.09L476.6 52.48L472.61 52.48Z" fill="#522379"/>
<text x="0" y="0" font-size="8.9" text-anchor="start" fill="#111" transform="translate(482.7 57.12) scale(0.880 1)">10 nM</text>
<line x1="469.4" y1="68.1" x2="479.8" y2="68.1" stroke="#22468c" stroke-width="1"/>
<path d="M474.6 66.01L476.6 69.62L472.61 69.62Z" fill="#22468c"/>
<text x="0" y="0" font-size="8.9" text-anchor="start" fill="#111" transform="translate(482.7 71.21) scale(0.880 1)">5 nM</text>
<line x1="469.4" y1="82.4" x2="479.8" y2="82.4" stroke="#55ab40" stroke-width="1"/>
<rect x="472.99" y="80.79" width="3.23" height="3.23" fill="#55ab40"/>
<text x="0" y="0" font-size="8.9" text-anchor="start" fill="#111" transform="translate(482.7 85.52) scale(0.880 1)">2.5 nM</text>
<line x1="469.4" y1="95.9" x2="479.8" y2="95.9" stroke="#9c5e22" stroke-width="1"/>
<path d="M474.6 93.72L476.5 95.9L474.6 98.09L472.7 95.9Z" fill="#9c5e22"/>
<text x="0" y="0" font-size="8.9" text-anchor="start" fill="#111" transform="translate(482.7 99.02) scale(0.880 1)">1.3 nM</text>
<line x1="469.4" y1="110.1" x2="479.8" y2="110.1" stroke="#e58f18" stroke-width="1"/>
<circle cx="474.6" cy="110.1" r="1.99" fill="#e58f18"/>
<text x="0" y="0" font-size="8.9" text-anchor="start" fill="#111" transform="translate(482.7 113.21) scale(0.880 1)">0.63 nM</text>
<line x1="469.4" y1="123" x2="479.8" y2="123" stroke="#b81a44" stroke-width="1"/>
<path d="M474.6 121.19L476.31 124.33L472.89 124.33Z" fill="#b81a44"/>
<text x="0" y="0" font-size="8.9" text-anchor="start" fill="#111" transform="translate(482.7 126.11) scale(0.880 1)">0 nM</text>
<line x1="50" y1="215.7" x2="50" y2="363.5" stroke="#1a1a1a" stroke-width="1.4"/>
<line x1="11.7" y1="348.2" x2="179" y2="348.2" stroke="#1a1a1a" stroke-width="1.25"/>
<line x1="46.8" y1="315.84" x2="50" y2="315.84" stroke="#1a1a1a" stroke-width="0.9"/>
<text x="0" y="0" font-size="8.6" text-anchor="end" fill="#111" transform="translate(43.6 319.28) scale(0.900 1)" style="stroke-width:0.2px">0.02</text>
<line x1="46.8" y1="283.48" x2="50" y2="283.48" stroke="#1a1a1a" stroke-width="0.9"/>
<text x="0" y="0" font-size="8.6" text-anchor="end" fill="#111" transform="translate(43.6 286.92) scale(0.900 1)" style="stroke-width:0.2px">0.04</text>
<line x1="46.8" y1="251.12" x2="50" y2="251.12" stroke="#1a1a1a" stroke-width="0.9"/>
<text x="0" y="0" font-size="8.6" text-anchor="end" fill="#111" transform="translate(43.6 254.56) scale(0.900 1)" style="stroke-width:0.2px">0.06</text>
<line x1="46.8" y1="218.76" x2="50" y2="218.76" stroke="#1a1a1a" stroke-width="0.9"/>
<text x="0" y="0" font-size="8.6" text-anchor="end" fill="#111" transform="translate(43.6 222.2) scale(0.900 1)" style="stroke-width:0.2px">0.08</text>
<line x1="48.2" y1="332.02" x2="50" y2="332.02" stroke="#1a1a1a" stroke-width="0.8"/>
<line x1="48.2" y1="299.66" x2="50" y2="299.66" stroke="#1a1a1a" stroke-width="0.8"/>
<line x1="48.2" y1="267.3" x2="50" y2="267.3" stroke="#1a1a1a" stroke-width="0.8"/>
<line x1="48.2" y1="234.94" x2="50" y2="234.94" stroke="#1a1a1a" stroke-width="0.8"/>
<line x1="24.84" y1="348.2" x2="24.84" y2="351.2" stroke="#1a1a1a" stroke-width="0.9"/>
<text x="0" y="0" font-size="8.6" text-anchor="middle" fill="#111" transform="translate(24.84 361.81) scale(0.900 1)" style="stroke-width:0.2px">−2</text>
<line x1="75.36" y1="348.2" x2="75.36" y2="351.2" stroke="#1a1a1a" stroke-width="0.9"/>
<text x="0" y="0" font-size="8.6" text-anchor="middle" fill="#111" transform="translate(75.36 361.81) scale(0.900 1)" style="stroke-width:0.2px">2</text>
<line x1="100.62" y1="348.2" x2="100.62" y2="351.2" stroke="#1a1a1a" stroke-width="0.9"/>
<text x="0" y="0" font-size="8.6" text-anchor="middle" fill="#111" transform="translate(100.62 361.81) scale(0.900 1)" style="stroke-width:0.2px">4</text>
<line x1="125.88" y1="348.2" x2="125.88" y2="351.2" stroke="#1a1a1a" stroke-width="0.9"/>
<text x="0" y="0" font-size="8.6" text-anchor="middle" fill="#111" transform="translate(125.88 361.81) scale(0.900 1)" style="stroke-width:0.2px">6</text>
<line x1="151.14" y1="348.2" x2="151.14" y2="351.2" stroke="#1a1a1a" stroke-width="0.9"/>
<text x="0" y="0" font-size="8.6" text-anchor="middle" fill="#111" transform="translate(151.14 361.81) scale(0.900 1)" style="stroke-width:0.2px">8</text>
<line x1="176.4" y1="348.2" x2="176.4" y2="351.2" stroke="#1a1a1a" stroke-width="0.9"/>
<text x="0" y="0" font-size="8.6" text-anchor="middle" fill="#111" transform="translate(176.4 361.81) scale(0.900 1)" style="stroke-width:0.2px">10</text>
<line x1="12.21" y1="348.2" x2="12.21" y2="349.8" stroke="#1a1a1a" stroke-width="0.8"/>
<line x1="37.47" y1="348.2" x2="37.47" y2="349.8" stroke="#1a1a1a" stroke-width="0.8"/>
<line x1="62.73" y1="348.2" x2="62.73" y2="349.8" stroke="#1a1a1a" stroke-width="0.8"/>
<line x1="87.99" y1="348.2" x2="87.99" y2="349.8" stroke="#1a1a1a" stroke-width="0.8"/>
<line x1="113.25" y1="348.2" x2="113.25" y2="349.8" stroke="#1a1a1a" stroke-width="0.8"/>
<line x1="138.51" y1="348.2" x2="138.51" y2="349.8" stroke="#1a1a1a" stroke-width="0.8"/>
<line x1="163.77" y1="348.2" x2="163.77" y2="349.8" stroke="#1a1a1a" stroke-width="0.8"/>
<line x1="11.7" y1="337.36" x2="176.5" y2="329.7" stroke="#b81a44" stroke-width="1.15"/>
<line x1="11.7" y1="339.19" x2="176.5" y2="323.6" stroke="#e58f18" stroke-width="1.15"/>
<line x1="11.7" y1="342.5" x2="176.5" y2="312.5" stroke="#9c5e22" stroke-width="1.15"/>
<line x1="11.7" y1="348.03" x2="176.5" y2="293.98" stroke="#55ab40" stroke-width="1.15"/>
<line x1="11.7" y1="352.39" x2="176.5" y2="279.38" stroke="#22468c" stroke-width="1.15"/>
<line x1="11.7" y1="356.92" x2="176.5" y2="264.21" stroke="#522379" stroke-width="1.15"/>
<line x1="16.17" y1="363.5" x2="176.5" y2="229.7" stroke="#5e3f1f" stroke-width="1.15"/>
<path d="M53.26 335.92L54.97 339.06L51.55 339.06Z" fill="#b81a44"/>
<path d="M56.41 335.78L58.12 338.91L54.7 338.91Z" fill="#b81a44"/>
<path d="M62.73 335.48L64.44 338.62L61.02 338.62Z" fill="#b81a44"/>
<path d="M75.36 334.1L77.07 337.23L73.65 337.23Z" fill="#b81a44"/>
<path d="M100.62 331.42L102.33 334.56L98.91 334.56Z" fill="#b81a44"/>
<path d="M151.14 329.07L152.85 332.21L149.43 332.21Z" fill="#b81a44"/>
<circle cx="53.26" cy="335.25" r="1.99" fill="#e58f18"/>
<circle cx="56.41" cy="334.96" r="1.99" fill="#e58f18"/>
<circle cx="62.73" cy="334.36" r="1.99" fill="#e58f18"/>
<circle cx="75.36" cy="333.16" r="1.99" fill="#e58f18"/>
<circle cx="100.62" cy="331.27" r="1.99" fill="#e58f18"/>
<circle cx="151.14" cy="325.99" r="1.99" fill="#e58f18"/>
<path d="M53.26 332.75L55.16 334.93L53.26 337.12L51.36 334.93Z" fill="#9c5e22"/>
<path d="M56.41 332.17L58.31 334.36L56.41 336.54L54.52 334.36Z" fill="#9c5e22"/>
<path d="M62.73 331.03L64.63 333.21L62.73 335.4L60.83 333.21Z" fill="#9c5e22"/>
<path d="M75.36 328.73L77.26 330.91L75.36 333.1L73.46 330.91Z" fill="#9c5e22"/>
<path d="M100.62 324.13L102.52 326.31L100.62 328.5L98.72 326.31Z" fill="#9c5e22"/>
<path d="M151.14 314.93L153.04 317.12L151.14 319.3L149.24 317.12Z" fill="#9c5e22"/>
<rect x="51.64" y="332.79" width="3.23" height="3.23" fill="#55ab40"/>
<rect x="54.8" y="331.75" width="3.23" height="3.23" fill="#55ab40"/>
<rect x="61.12" y="329.68" width="3.23" height="3.23" fill="#55ab40"/>
<rect x="73.75" y="325.54" width="3.23" height="3.23" fill="#55ab40"/>
<rect x="99.01" y="317.25" width="3.23" height="3.23" fill="#55ab40"/>
<rect x="149.53" y="300.68" width="3.23" height="3.23" fill="#55ab40"/>
<path d="M53.26 336.07L55.25 332.46L51.26 332.46Z" fill="#22468c"/>
<path d="M56.41 334.67L58.41 331.06L54.42 331.06Z" fill="#22468c"/>
<path d="M62.73 331.87L64.73 328.26L60.74 328.26Z" fill="#22468c"/>
<path d="M75.36 326.28L77.36 322.67L73.36 322.67Z" fill="#22468c"/>
<path d="M100.62 315.09L102.62 311.48L98.62 311.48Z" fill="#22468c"/>
<path d="M151.14 292.71L153.14 289.1L149.15 289.1Z" fill="#22468c"/>
<path d="M53.26 331.45L55.25 335.06L51.26 335.06Z" fill="#522379"/>
<path d="M56.41 329.68L58.41 333.29L54.42 333.29Z" fill="#522379"/>
<path d="M62.73 326.12L64.73 329.73L60.74 329.73Z" fill="#522379"/>
<path d="M75.36 319.02L77.36 322.63L73.36 322.63Z" fill="#522379"/>
<path d="M100.62 304.81L102.62 308.42L98.62 308.42Z" fill="#522379"/>
<path d="M151.14 276.38L153.14 279.99L149.15 279.99Z" fill="#522379"/>
<path d="M51.36 330.65L55.16 334.45M51.36 334.45L55.16 330.65" stroke="#5e3f1f" stroke-width="1.05" fill="none"/>
<path d="M54.52 328.01L58.31 331.81M54.52 331.81L58.31 328.01" stroke="#5e3f1f" stroke-width="1.05" fill="none"/>
<path d="M60.83 322.74L64.63 326.54M60.83 326.54L64.63 322.74" stroke="#5e3f1f" stroke-width="1.05" fill="none"/>
<path d="M73.46 312.2L77.26 316M73.46 316L77.26 312.2" stroke="#5e3f1f" stroke-width="1.05" fill="none"/>
<path d="M98.72 295.12L102.52 298.92M98.72 298.92L102.52 295.12" stroke="#5e3f1f" stroke-width="1.05" fill="none"/>
<path d="M149.24 246.36L153.04 250.16M149.24 250.16L153.04 246.36" stroke="#5e3f1f" stroke-width="1.05" fill="none"/>
<text x="0" y="0" font-size="9.8" text-anchor="middle" fill="#111" transform="translate(121.45 375.3) scale(0.920 1)">1 / KO (μM<tspan dy="-3.8" font-size="6.6">−1</tspan><tspan dy="3.8">)</tspan></text>
<text x="0" y="0" font-size="9.8" text-anchor="middle" fill="#111" transform="translate(22.2 279.6) rotate(-90) scale(0.938 1)">1 / rate (nM/min, x10<tspan dy="-3.8" font-size="6.6">−5</tspan><tspan dy="3.8">)<tspan dy="-3.8" font-size="6.6">-1</tspan></tspan></text>
<text x="0" y="0" font-size="8.9" text-anchor="start" fill="#111" transform="translate(190.3 226.52) scale(0.880 1)">Fluindione</text>
<line x1="187.2" y1="235.4" x2="197.6" y2="235.4" stroke="#5e3f1f" stroke-width="1"/>
<path d="M190.5 233.5L194.3 237.3M190.5 237.3L194.3 233.5" stroke="#5e3f1f" stroke-width="1.05" fill="none"/>
<text x="0" y="0" font-size="8.9" text-anchor="start" fill="#111" transform="translate(204.4 238.52) scale(0.880 1)">30 nM</text>
<line x1="187.2" y1="247.8" x2="197.6" y2="247.8" stroke="#522379" stroke-width="1"/>
<path d="M192.4 245.71L194.39 249.32L190.4 249.32Z" fill="#522379"/>
<text x="0" y="0" font-size="8.9" text-anchor="start" fill="#111" transform="translate(204.4 250.92) scale(0.880 1)">15 nM</text>
<line x1="187.2" y1="262" x2="197.6" y2="262" stroke="#22468c" stroke-width="1"/>
<path d="M192.4 264.09L194.39 260.48L190.4 260.48Z" fill="#22468c"/>
<text x="0" y="0" font-size="8.9" text-anchor="start" fill="#111" transform="translate(204.4 265.12) scale(0.880 1)">7.5 nM</text>
<line x1="187.2" y1="276.5" x2="197.6" y2="276.5" stroke="#55ab40" stroke-width="1"/>
<rect x="190.78" y="274.88" width="3.23" height="3.23" fill="#55ab40"/>
<text x="0" y="0" font-size="8.9" text-anchor="start" fill="#111" transform="translate(204.4 279.62) scale(0.880 1)">3.8 nM</text>
<line x1="187.2" y1="290.2" x2="197.6" y2="290.2" stroke="#9c5e22" stroke-width="1"/>
<path d="M192.4 288.01L194.3 290.2L192.4 292.38L190.5 290.2Z" fill="#9c5e22"/>
<text x="0" y="0" font-size="8.9" text-anchor="start" fill="#111" transform="translate(204.4 293.31) scale(0.880 1)">1.9 nM</text>
<line x1="187.2" y1="304" x2="197.6" y2="304" stroke="#e58f18" stroke-width="1"/>
<circle cx="192.4" cy="304" r="1.99" fill="#e58f18"/>
<text x="0" y="0" font-size="8.9" text-anchor="start" fill="#111" transform="translate(204.4 307.12) scale(0.880 1)">0.94 nM</text>
<line x1="187.2" y1="317" x2="197.6" y2="317" stroke="#b81a44" stroke-width="1"/>
<path d="M192.4 315.19L194.11 318.33L190.69 318.33Z" fill="#b81a44"/>
<text x="0" y="0" font-size="8.9" text-anchor="start" fill="#111" transform="translate(204.4 320.12) scale(0.880 1)">0 nM</text>
<line x1="308.6" y1="216.9" x2="308.6" y2="367.6" stroke="#1a1a1a" stroke-width="1.25"/>
<line x1="269.7" y1="347.4" x2="440.5" y2="347.4" stroke="#1a1a1a" stroke-width="1.25"/>
<line x1="305.4" y1="326.22" x2="308.6" y2="326.22" stroke="#1a1a1a" stroke-width="0.9"/>
<text x="0" y="0" font-size="8.6" text-anchor="end" fill="#111" transform="translate(302.2 329.66) scale(0.900 1)" style="stroke-width:0.2px">0.03</text>
<line x1="305.4" y1="304.94" x2="308.6" y2="304.94" stroke="#1a1a1a" stroke-width="0.9"/>
<text x="0" y="0" font-size="8.6" text-anchor="end" fill="#111" transform="translate(302.2 308.38) scale(0.900 1)" style="stroke-width:0.2px">0.06</text>
<line x1="305.4" y1="283.66" x2="308.6" y2="283.66" stroke="#1a1a1a" stroke-width="0.9"/>
<text x="0" y="0" font-size="8.6" text-anchor="end" fill="#111" transform="translate(302.2 287.1) scale(0.900 1)" style="stroke-width:0.2px">0.09</text>
<line x1="305.4" y1="262.38" x2="308.6" y2="262.38" stroke="#1a1a1a" stroke-width="0.9"/>
<text x="0" y="0" font-size="8.6" text-anchor="end" fill="#111" transform="translate(302.2 265.82) scale(0.900 1)" style="stroke-width:0.2px">0.12</text>
<line x1="305.4" y1="241.11" x2="308.6" y2="241.11" stroke="#1a1a1a" stroke-width="0.9"/>
<text x="0" y="0" font-size="8.6" text-anchor="end" fill="#111" transform="translate(302.2 244.55) scale(0.900 1)" style="stroke-width:0.2px">0.15</text>
<line x1="305.4" y1="219.83" x2="308.6" y2="219.83" stroke="#1a1a1a" stroke-width="0.9"/>
<text x="0" y="0" font-size="8.6" text-anchor="end" fill="#111" transform="translate(302.2 223.27) scale(0.900 1)" style="stroke-width:0.2px">0.18</text>
<line x1="306.8" y1="336.86" x2="308.6" y2="336.86" stroke="#1a1a1a" stroke-width="0.8"/>
<line x1="306.8" y1="315.58" x2="308.6" y2="315.58" stroke="#1a1a1a" stroke-width="0.8"/>
<line x1="306.8" y1="294.3" x2="308.6" y2="294.3" stroke="#1a1a1a" stroke-width="0.8"/>
<line x1="306.8" y1="273.02" x2="308.6" y2="273.02" stroke="#1a1a1a" stroke-width="0.8"/>
<line x1="306.8" y1="251.74" x2="308.6" y2="251.74" stroke="#1a1a1a" stroke-width="0.8"/>
<line x1="306.8" y1="230.47" x2="308.6" y2="230.47" stroke="#1a1a1a" stroke-width="0.8"/>
<line x1="282.9" y1="347.4" x2="282.9" y2="350.4" stroke="#1a1a1a" stroke-width="0.9"/>
<text x="0" y="0" font-size="8.6" text-anchor="middle" fill="#111" transform="translate(282.9 361.31) scale(0.900 1)" style="stroke-width:0.2px">−2</text>
<line x1="334.7" y1="347.4" x2="334.7" y2="350.4" stroke="#1a1a1a" stroke-width="0.9"/>
<text x="0" y="0" font-size="8.6" text-anchor="middle" fill="#111" transform="translate(334.7 361.31) scale(0.900 1)" style="stroke-width:0.2px">2</text>
<line x1="360.6" y1="347.4" x2="360.6" y2="350.4" stroke="#1a1a1a" stroke-width="0.9"/>
<text x="0" y="0" font-size="8.6" text-anchor="middle" fill="#111" transform="translate(360.6 361.31) scale(0.900 1)" style="stroke-width:0.2px">4</text>
<line x1="386.5" y1="347.4" x2="386.5" y2="350.4" stroke="#1a1a1a" stroke-width="0.9"/>
<text x="0" y="0" font-size="8.6" text-anchor="middle" fill="#111" transform="translate(386.5 361.31) scale(0.900 1)" style="stroke-width:0.2px">6</text>
<line x1="412.4" y1="347.4" x2="412.4" y2="350.4" stroke="#1a1a1a" stroke-width="0.9"/>
<text x="0" y="0" font-size="8.6" text-anchor="middle" fill="#111" transform="translate(412.4 361.31) scale(0.900 1)" style="stroke-width:0.2px">8</text>
<line x1="438.3" y1="347.4" x2="438.3" y2="350.4" stroke="#1a1a1a" stroke-width="0.9"/>
<text x="0" y="0" font-size="8.6" text-anchor="middle" fill="#111" transform="translate(438.3 361.31) scale(0.900 1)" style="stroke-width:0.2px">10</text>
<line x1="269.95" y1="347.4" x2="269.95" y2="349" stroke="#1a1a1a" stroke-width="0.8"/>
<line x1="295.85" y1="347.4" x2="295.85" y2="349" stroke="#1a1a1a" stroke-width="0.8"/>
<line x1="321.75" y1="347.4" x2="321.75" y2="349" stroke="#1a1a1a" stroke-width="0.8"/>
<line x1="347.65" y1="347.4" x2="347.65" y2="349" stroke="#1a1a1a" stroke-width="0.8"/>
<line x1="373.55" y1="347.4" x2="373.55" y2="349" stroke="#1a1a1a" stroke-width="0.8"/>
<line x1="399.45" y1="347.4" x2="399.45" y2="349" stroke="#1a1a1a" stroke-width="0.8"/>
<line x1="425.35" y1="347.4" x2="425.35" y2="349" stroke="#1a1a1a" stroke-width="0.8"/>
<line x1="269.7" y1="342.24" x2="438.6" y2="341.2" stroke="#b81a44" stroke-width="1.15"/>
<line x1="269.7" y1="343.17" x2="438.6" y2="338.1" stroke="#e58f18" stroke-width="1.15"/>
<line x1="269.7" y1="344.67" x2="438.6" y2="332.2" stroke="#9c5e22" stroke-width="1.15"/>
<line x1="269.7" y1="347.02" x2="438.6" y2="322.2" stroke="#55ab40" stroke-width="1.15"/>
<line x1="269.7" y1="350.25" x2="438.6" y2="305.3" stroke="#22468c" stroke-width="1.15"/>
<line x1="269.7" y1="358.44" x2="438.6" y2="273.6" stroke="#522379" stroke-width="1.15"/>
<line x1="275.33" y1="367.6" x2="438.6" y2="224.8" stroke="#5e3f1f" stroke-width="1.15"/>
<path d="M312.04 340.17L313.75 343.31L310.33 343.31Z" fill="#b81a44"/>
<path d="M315.28 340.15L316.99 343.29L313.57 343.29Z" fill="#b81a44"/>
<path d="M321.75 340.11L323.46 343.25L320.04 343.25Z" fill="#b81a44"/>
<path d="M334.7 340.03L336.41 343.17L332.99 343.17Z" fill="#b81a44"/>
<path d="M360.6 339.88L362.31 343.01L358.89 343.01Z" fill="#b81a44"/>
<path d="M412.4 339.56L414.11 342.69L410.69 342.69Z" fill="#b81a44"/>
<circle cx="312.04" cy="341.9" r="1.99" fill="#e58f18"/>
<circle cx="315.28" cy="341.8" r="1.99" fill="#e58f18"/>
<circle cx="321.75" cy="341.61" r="1.99" fill="#e58f18"/>
<circle cx="334.7" cy="341.22" r="1.99" fill="#e58f18"/>
<circle cx="360.6" cy="340.44" r="1.99" fill="#e58f18"/>
<circle cx="412.4" cy="338.89" r="1.99" fill="#e58f18"/>
<path d="M312.04 339.36L313.94 341.55L312.04 343.73L310.14 341.55Z" fill="#9c5e22"/>
<path d="M315.28 339.12L317.18 341.31L315.28 343.49L313.38 341.31Z" fill="#9c5e22"/>
<path d="M321.75 338.64L323.65 340.83L321.75 343.01L319.85 340.83Z" fill="#9c5e22"/>
<path d="M334.7 337.69L336.6 339.87L334.7 342.06L332.8 339.87Z" fill="#9c5e22"/>
<path d="M360.6 335.77L362.5 337.96L360.6 340.14L358.7 337.96Z" fill="#9c5e22"/>
<path d="M412.4 331.95L414.3 334.13L412.4 336.32L410.5 334.13Z" fill="#9c5e22"/>
<rect x="310.42" y="339.18" width="3.23" height="3.23" fill="#55ab40"/>
<rect x="313.66" y="338.7" width="3.23" height="3.23" fill="#55ab40"/>
<rect x="320.13" y="337.75" width="3.23" height="3.23" fill="#55ab40"/>
<rect x="333.08" y="335.85" width="3.23" height="3.23" fill="#55ab40"/>
<rect x="358.99" y="332.05" width="3.23" height="3.23" fill="#55ab40"/>
<rect x="410.78" y="324.43" width="3.23" height="3.23" fill="#55ab40"/>
<path d="M312.04 341.08L314.03 337.47L310.04 337.47Z" fill="#22468c"/>
<path d="M315.28 340.21L317.27 336.6L313.28 336.6Z" fill="#22468c"/>
<path d="M321.75 338.49L323.75 334.88L319.75 334.88Z" fill="#22468c"/>
<path d="M334.7 335.04L336.69 331.43L332.7 331.43Z" fill="#22468c"/>
<path d="M360.6 328.15L362.6 324.54L358.61 324.54Z" fill="#22468c"/>
<path d="M412.4 314.36L414.39 310.75L410.4 310.75Z" fill="#22468c"/>
<path d="M312.04 335.08L314.03 338.69L310.04 338.69Z" fill="#522379"/>
<path d="M315.28 333.46L317.27 337.07L313.28 337.07Z" fill="#522379"/>
<path d="M321.75 330.2L323.75 333.81L319.75 333.81Z" fill="#522379"/>
<path d="M334.7 323.7L336.69 327.31L332.7 327.31Z" fill="#522379"/>
<path d="M360.6 310.69L362.6 314.3L358.61 314.3Z" fill="#522379"/>
<path d="M412.4 284.67L414.39 288.28L410.4 288.28Z" fill="#522379"/>
<path d="M310.14 333.59L313.94 337.39M310.14 337.39L313.94 333.59" stroke="#5e3f1f" stroke-width="1.05" fill="none"/>
<path d="M313.38 330.76L317.18 334.56M313.38 334.56L317.18 330.76" stroke="#5e3f1f" stroke-width="1.05" fill="none"/>
<path d="M319.85 325.1L323.65 328.9M319.85 328.9L323.65 325.1" stroke="#5e3f1f" stroke-width="1.05" fill="none"/>
<path d="M332.8 313.77L336.6 317.57M332.8 317.57L336.6 313.77" stroke="#5e3f1f" stroke-width="1.05" fill="none"/>
<path d="M358.7 291.12L362.5 294.92M358.7 294.92L362.5 291.12" stroke="#5e3f1f" stroke-width="1.05" fill="none"/>
<path d="M410.5 245.81L414.3 249.61M410.5 249.61L414.3 245.81" stroke="#5e3f1f" stroke-width="1.05" fill="none"/>
<text x="0" y="0" font-size="9.8" text-anchor="middle" fill="#111" transform="translate(377.85 377.9) scale(0.920 1)">1 / KO (μM<tspan dy="-3.8" font-size="6.6">−1</tspan><tspan dy="3.8">)</tspan></text>
<text x="0" y="0" font-size="9.8" text-anchor="middle" fill="#111" transform="translate(281 273.3) rotate(-90) scale(0.955 1)">1 / rate (nM/min, x10<tspan dy="-3.8" font-size="6.6">−5</tspan><tspan dy="3.8">)<tspan dy="-3.8" font-size="6.6">-1</tspan></tspan></text>
<text x="0" y="0" font-size="8.9" text-anchor="start" fill="#111" transform="translate(447.9 228.62) scale(0.880 1)">Warfarin</text>
<line x1="444.1" y1="237.5" x2="454.5" y2="237.5" stroke="#5e3f1f" stroke-width="1"/>
<path d="M447.4 235.6L451.2 239.4M447.4 239.4L451.2 235.6" stroke="#5e3f1f" stroke-width="1.05" fill="none"/>
<text x="0" y="0" font-size="8.9" text-anchor="start" fill="#111" transform="translate(457.6 240.62) scale(0.880 1)">20 nM</text>
<line x1="444.1" y1="251.3" x2="454.5" y2="251.3" stroke="#522379" stroke-width="1"/>
<path d="M449.3 249.21L451.3 252.82L447.31 252.82Z" fill="#522379"/>
<text x="0" y="0" font-size="8.9" text-anchor="start" fill="#111" transform="translate(457.6 254.42) scale(0.880 1)">10 nM</text>
<line x1="444.1" y1="265.2" x2="454.5" y2="265.2" stroke="#22468c" stroke-width="1"/>
<path d="M449.3 267.29L451.3 263.68L447.31 263.68Z" fill="#22468c"/>
<text x="0" y="0" font-size="8.9" text-anchor="start" fill="#111" transform="translate(457.6 268.31) scale(0.880 1)">5 nM</text>
<line x1="444.1" y1="278.6" x2="454.5" y2="278.6" stroke="#55ab40" stroke-width="1"/>
<rect x="447.69" y="276.99" width="3.23" height="3.23" fill="#55ab40"/>
<text x="0" y="0" font-size="8.9" text-anchor="start" fill="#111" transform="translate(457.6 281.72) scale(0.880 1)">2.5 nM</text>
<line x1="444.1" y1="292.6" x2="454.5" y2="292.6" stroke="#9c5e22" stroke-width="1"/>
<path d="M449.3 290.42L451.2 292.6L449.3 294.79L447.4 292.6Z" fill="#9c5e22"/>
<text x="0" y="0" font-size="8.9" text-anchor="start" fill="#111" transform="translate(457.6 295.72) scale(0.880 1)">1.3 nM</text>
<line x1="444.1" y1="306.5" x2="454.5" y2="306.5" stroke="#e58f18" stroke-width="1"/>
<circle cx="449.3" cy="306.5" r="1.99" fill="#e58f18"/>
<text x="0" y="0" font-size="8.9" text-anchor="start" fill="#111" transform="translate(457.6 309.62) scale(0.880 1)">0.63 nM</text>
<line x1="444.1" y1="320.2" x2="454.5" y2="320.2" stroke="#b81a44" stroke-width="1"/>
<path d="M449.3 318.39L451.01 321.53L447.59 321.53Z" fill="#b81a44"/>
<text x="0" y="0" font-size="8.9" text-anchor="start" fill="#111" transform="translate(457.6 323.31) scale(0.880 1)">0 nM</text>
<text x="0" y="0" font-size="9.8" text-anchor="middle" fill="#111" transform="translate(60 470.65) rotate(-90) scale(0.917 1)">KO / rate (min, x10<tspan dy="-3.8" font-size="6.6">5</tspan><tspan dy="3.8">)</tspan></text>
<line x1="21.8" y1="502.5" x2="188" y2="446.8" stroke="#b81a44" stroke-width="1.15"/>
<line x1="21.8" y1="525.5" x2="188" y2="485.1" stroke="#e58f18" stroke-width="1.15"/>
<line x1="21.8" y1="535.9" x2="188" y2="507.6" stroke="#55ab40" stroke-width="1.15"/>
<line x1="21.8" y1="541.4" x2="188" y2="517.2" stroke="#1f3f84" stroke-width="1.15"/>
<line x1="21.8" y1="544.5" x2="188" y2="522.5" stroke="#4a1d63" stroke-width="1.15"/>
<line x1="86.5" y1="415.2" x2="86.5" y2="570.5" stroke="#1a1a1a" stroke-width="1.25"/>
<line x1="21.8" y1="543.5" x2="190.4" y2="543.5" stroke="#1a1a1a" stroke-width="1.25"/>
<line x1="83.3" y1="564.33" x2="86.5" y2="564.33" stroke="#1a1a1a" stroke-width="0.9"/>
<text x="0" y="0" font-size="8.6" text-anchor="end" fill="#111" transform="translate(80.1 567.77) scale(0.900 1)" style="stroke-width:0.2px">−10</text>
<line x1="83.3" y1="522.47" x2="86.5" y2="522.47" stroke="#1a1a1a" stroke-width="0.9"/>
<text x="0" y="0" font-size="8.6" text-anchor="end" fill="#111" transform="translate(80.1 525.91) scale(0.900 1)" style="stroke-width:0.2px">10</text>
<line x1="83.3" y1="501.54" x2="86.5" y2="501.54" stroke="#1a1a1a" stroke-width="0.9"/>
<text x="0" y="0" font-size="8.6" text-anchor="end" fill="#111" transform="translate(80.1 504.98) scale(0.900 1)" style="stroke-width:0.2px">20</text>
<line x1="83.3" y1="480.61" x2="86.5" y2="480.61" stroke="#1a1a1a" stroke-width="0.9"/>
<text x="0" y="0" font-size="8.6" text-anchor="end" fill="#111" transform="translate(80.1 484.05) scale(0.900 1)" style="stroke-width:0.2px">30</text>
<line x1="83.3" y1="459.68" x2="86.5" y2="459.68" stroke="#1a1a1a" stroke-width="0.9"/>
<text x="0" y="0" font-size="8.6" text-anchor="end" fill="#111" transform="translate(80.1 463.12) scale(0.900 1)" style="stroke-width:0.2px">40</text>
<line x1="83.3" y1="438.75" x2="86.5" y2="438.75" stroke="#1a1a1a" stroke-width="0.9"/>
<text x="0" y="0" font-size="8.6" text-anchor="end" fill="#111" transform="translate(80.1 442.19) scale(0.900 1)" style="stroke-width:0.2px">50</text>
<line x1="83.3" y1="417.82" x2="86.5" y2="417.82" stroke="#1a1a1a" stroke-width="0.9"/>
<text x="0" y="0" font-size="8.6" text-anchor="end" fill="#111" transform="translate(80.1 421.26) scale(0.900 1)" style="stroke-width:0.2px">60</text>
<line x1="84.7" y1="553.87" x2="86.5" y2="553.87" stroke="#1a1a1a" stroke-width="0.8"/>
<line x1="84.7" y1="532.93" x2="86.5" y2="532.93" stroke="#1a1a1a" stroke-width="0.8"/>
<line x1="84.7" y1="512" x2="86.5" y2="512" stroke="#1a1a1a" stroke-width="0.8"/>
<line x1="84.7" y1="491.07" x2="86.5" y2="491.07" stroke="#1a1a1a" stroke-width="0.8"/>
<line x1="84.7" y1="470.14" x2="86.5" y2="470.14" stroke="#1a1a1a" stroke-width="0.8"/>
<line x1="84.7" y1="449.21" x2="86.5" y2="449.21" stroke="#1a1a1a" stroke-width="0.8"/>
<line x1="84.7" y1="428.28" x2="86.5" y2="428.28" stroke="#1a1a1a" stroke-width="0.8"/>
<line x1="36" y1="543.5" x2="36" y2="546.5" stroke="#1a1a1a" stroke-width="0.9"/>
<text x="0" y="0" font-size="8.6" text-anchor="middle" fill="#111" transform="translate(36 556.61) scale(0.900 1)" style="stroke-width:0.2px">−20</text>
<line x1="61.3" y1="543.5" x2="61.3" y2="546.5" stroke="#1a1a1a" stroke-width="0.9"/>
<text x="0" y="0" font-size="8.6" text-anchor="middle" fill="#111" transform="translate(61.3 556.61) scale(0.900 1)" style="stroke-width:0.2px">−10</text>
<line x1="111.9" y1="543.5" x2="111.9" y2="546.5" stroke="#1a1a1a" stroke-width="0.9"/>
<text x="0" y="0" font-size="8.6" text-anchor="middle" fill="#111" transform="translate(111.9 556.61) scale(0.900 1)" style="stroke-width:0.2px">10</text>
<line x1="137.2" y1="543.5" x2="137.2" y2="546.5" stroke="#1a1a1a" stroke-width="0.9"/>
<text x="0" y="0" font-size="8.6" text-anchor="middle" fill="#111" transform="translate(137.2 556.61) scale(0.900 1)" style="stroke-width:0.2px">20</text>
<line x1="162.5" y1="543.5" x2="162.5" y2="546.5" stroke="#1a1a1a" stroke-width="0.9"/>
<text x="0" y="0" font-size="8.6" text-anchor="middle" fill="#111" transform="translate(162.5 556.61) scale(0.900 1)" style="stroke-width:0.2px">30</text>
<line x1="187.8" y1="543.5" x2="187.8" y2="546.5" stroke="#1a1a1a" stroke-width="0.9"/>
<text x="0" y="0" font-size="8.6" text-anchor="middle" fill="#111" transform="translate(187.8 556.61) scale(0.900 1)" style="stroke-width:0.2px">40</text>
<line x1="23.35" y1="543.5" x2="23.35" y2="545.1" stroke="#1a1a1a" stroke-width="0.8"/>
<line x1="48.65" y1="543.5" x2="48.65" y2="545.1" stroke="#1a1a1a" stroke-width="0.8"/>
<line x1="73.95" y1="543.5" x2="73.95" y2="545.1" stroke="#1a1a1a" stroke-width="0.8"/>
<line x1="99.25" y1="543.5" x2="99.25" y2="545.1" stroke="#1a1a1a" stroke-width="0.8"/>
<line x1="124.55" y1="543.5" x2="124.55" y2="545.1" stroke="#1a1a1a" stroke-width="0.8"/>
<line x1="149.85" y1="543.5" x2="149.85" y2="545.1" stroke="#1a1a1a" stroke-width="0.8"/>
<line x1="175.15" y1="543.5" x2="175.15" y2="545.1" stroke="#1a1a1a" stroke-width="0.8"/>
<path d="M86.88 476.59L91.08 480.79M86.88 480.79L91.08 476.59" stroke="#b81a44" stroke-width="1.05" fill="none"/>
<path d="M89.31 476.67L93.51 480.87M89.31 480.87L93.51 476.67" stroke="#b81a44" stroke-width="1.05" fill="none"/>
<path d="M94.11 472.26L98.31 476.46M94.11 476.46L98.31 472.26" stroke="#b81a44" stroke-width="1.05" fill="none"/>
<path d="M103.47 471.02L107.67 475.22M103.47 475.22L107.67 471.02" stroke="#b81a44" stroke-width="1.05" fill="none"/>
<path d="M122.45 465.96L126.65 470.16M122.45 470.16L126.65 465.96" stroke="#b81a44" stroke-width="1.05" fill="none"/>
<path d="M160.4 453.25L164.6 457.45M160.4 457.45L164.6 453.25" stroke="#b81a44" stroke-width="1.05" fill="none"/>
<path d="M88.98 511.48L91.18 507.49L86.77 507.49Z" fill="#e58f18"/>
<path d="M91.41 509.59L93.61 505.6L89.2 505.6Z" fill="#e58f18"/>
<path d="M96.21 508.42L98.42 504.43L94.01 504.43Z" fill="#e58f18"/>
<path d="M105.57 505.75L107.78 501.76L103.37 501.76Z" fill="#e58f18"/>
<path d="M124.55 500.23L126.75 496.24L122.34 496.24Z" fill="#e58f18"/>
<path d="M162.5 492.61L164.71 488.62L160.29 488.62Z" fill="#e58f18"/>
<path d="M88.98 522.55L91.18 526.54L86.77 526.54Z" fill="#55ab40"/>
<path d="M91.41 522.34L93.61 526.33L89.2 526.33Z" fill="#55ab40"/>
<path d="M96.21 520.92L98.42 524.91L94.01 524.91Z" fill="#55ab40"/>
<path d="M105.57 519.33L107.78 523.32L103.37 523.32Z" fill="#55ab40"/>
<path d="M124.55 517.39L126.75 521.38L122.34 521.38Z" fill="#55ab40"/>
<path d="M162.5 511.13L164.71 515.12L160.29 515.12Z" fill="#55ab40"/>
<rect x="87.19" y="529.83" width="3.57" height="3.57" fill="#1f3f84"/>
<rect x="89.62" y="529.48" width="3.57" height="3.57" fill="#1f3f84"/>
<rect x="94.43" y="526.88" width="3.57" height="3.57" fill="#1f3f84"/>
<rect x="103.79" y="525.52" width="3.57" height="3.57" fill="#1f3f84"/>
<rect x="122.76" y="524.05" width="3.57" height="3.57" fill="#1f3f84"/>
<rect x="160.72" y="519.13" width="3.57" height="3.57" fill="#1f3f84"/>
<path d="M88.98 534.49L91.08 536.91L88.98 539.32L86.88 536.91Z" fill="#4a1d63"/>
<path d="M91.41 532.87L93.51 535.29L91.41 537.7L89.31 535.29Z" fill="#4a1d63"/>
<path d="M96.21 531.23L98.31 533.65L96.21 536.06L94.11 533.65Z" fill="#4a1d63"/>
<path d="M105.57 530.1L107.67 532.51L105.57 534.93L103.47 532.51Z" fill="#4a1d63"/>
<path d="M124.55 528.08L126.65 530.5L124.55 532.91L122.45 530.5Z" fill="#4a1d63"/>
<path d="M162.5 522.46L164.6 524.88L162.5 527.29L160.4 524.88Z" fill="#4a1d63"/>
<text x="0" y="0" font-size="9.8" text-anchor="middle" fill="#111" transform="translate(139.45 570.3) scale(0.966 1)">Fluindione (nM)</text>
<text x="0" y="0" font-size="8.9" text-anchor="middle" fill="#111" transform="translate(224.6 427.22) scale(0.880 1)">KO</text>
<line x1="199" y1="436.3" x2="209" y2="436.3" stroke="#b81a44" stroke-width="1"/>
<path d="M202.1 434.4L205.9 438.2M202.1 438.2L205.9 434.4" stroke="#b81a44" stroke-width="1.05" fill="none"/>
<text x="0" y="0" font-size="8.9" text-anchor="start" fill="#111" transform="translate(212.1 439.42) scale(0.880 1)">4000 nM</text>
<line x1="199" y1="451.9" x2="209" y2="451.9" stroke="#e58f18" stroke-width="1"/>
<path d="M204 453.99L206 450.38L202 450.38Z" fill="#e58f18"/>
<text x="0" y="0" font-size="8.9" text-anchor="start" fill="#111" transform="translate(212.1 455.01) scale(0.880 1)">2000 nM</text>
<line x1="199" y1="468.1" x2="209" y2="468.1" stroke="#55ab40" stroke-width="1"/>
<path d="M204 466.01L206 469.62L202 469.62Z" fill="#55ab40"/>
<text x="0" y="0" font-size="8.9" text-anchor="start" fill="#111" transform="translate(212.1 471.22) scale(0.880 1)">1000 nM</text>
<line x1="199" y1="484" x2="209" y2="484" stroke="#1f3f84" stroke-width="1"/>
<rect x="202.38" y="482.38" width="3.23" height="3.23" fill="#1f3f84"/>
<text x="0" y="0" font-size="8.9" text-anchor="start" fill="#111" transform="translate(212.1 487.12) scale(0.880 1)">500 nM</text>
<line x1="199" y1="499.6" x2="209" y2="499.6" stroke="#4a1d63" stroke-width="1"/>
<path d="M204 497.42L205.9 499.6L204 501.79L202.1 499.6Z" fill="#4a1d63"/>
<text x="0" y="0" font-size="8.9" text-anchor="start" fill="#111" transform="translate(212.1 502.72) scale(0.880 1)">250 nM</text>
<text x="0" y="0" font-size="9.8" text-anchor="middle" fill="#111" transform="translate(310 472.5) rotate(-90) scale(0.917 1)">KO / rate (min, X10<tspan dy="-3.8" font-size="6.6">5</tspan><tspan dy="3.8">)</tspan></text>
<line x1="277.49" y1="565.7" x2="433.91" y2="412" stroke="#b81a44" stroke-width="1.15"/>
<line x1="271" y1="559.61" x2="438.8" y2="460.61" stroke="#e58f18" stroke-width="1.15"/>
<line x1="271" y1="554.39" x2="438.8" y2="484.8" stroke="#55ab40" stroke-width="1.15"/>
<line x1="271" y1="549.82" x2="438.8" y2="496.96" stroke="#1f3f84" stroke-width="1.15"/>
<line x1="271" y1="553.01" x2="438.8" y2="499.65" stroke="#4a1d63" stroke-width="1.15"/>
<line x1="335.5" y1="409" x2="335.5" y2="565.7" stroke="#1a1a1a" stroke-width="1.25"/>
<line x1="271" y1="536.8" x2="440" y2="536.8" stroke="#1a1a1a" stroke-width="1.25"/>
<line x1="332.3" y1="505.8" x2="335.5" y2="505.8" stroke="#1a1a1a" stroke-width="0.9"/>
<text x="0" y="0" font-size="8.6" text-anchor="end" fill="#111" transform="translate(329.1 509.24) scale(0.900 1)" style="stroke-width:0.2px">30</text>
<line x1="332.3" y1="474.8" x2="335.5" y2="474.8" stroke="#1a1a1a" stroke-width="0.9"/>
<text x="0" y="0" font-size="8.6" text-anchor="end" fill="#111" transform="translate(329.1 478.24) scale(0.900 1)" style="stroke-width:0.2px">60</text>
<line x1="332.3" y1="443.8" x2="335.5" y2="443.8" stroke="#1a1a1a" stroke-width="0.9"/>
<text x="0" y="0" font-size="8.6" text-anchor="end" fill="#111" transform="translate(329.1 447.24) scale(0.900 1)" style="stroke-width:0.2px">90</text>
<line x1="332.3" y1="412.8" x2="335.5" y2="412.8" stroke="#1a1a1a" stroke-width="0.9"/>
<text x="0" y="0" font-size="8.6" text-anchor="end" fill="#111" transform="translate(329.1 416.24) scale(0.900 1)" style="stroke-width:0.2px">120</text>
<line x1="333.7" y1="552.3" x2="335.5" y2="552.3" stroke="#1a1a1a" stroke-width="0.8"/>
<line x1="333.7" y1="521.3" x2="335.5" y2="521.3" stroke="#1a1a1a" stroke-width="0.8"/>
<line x1="333.7" y1="490.3" x2="335.5" y2="490.3" stroke="#1a1a1a" stroke-width="0.8"/>
<line x1="333.7" y1="459.3" x2="335.5" y2="459.3" stroke="#1a1a1a" stroke-width="0.8"/>
<line x1="333.7" y1="428.3" x2="335.5" y2="428.3" stroke="#1a1a1a" stroke-width="0.8"/>
<line x1="284.4" y1="536.8" x2="284.4" y2="539.8" stroke="#1a1a1a" stroke-width="0.9"/>
<text x="0" y="0" font-size="8.6" text-anchor="middle" fill="#111" transform="translate(284.4 552.01) scale(0.900 1)" style="stroke-width:0.2px">−20</text>
<line x1="309.95" y1="536.8" x2="309.95" y2="539.8" stroke="#1a1a1a" stroke-width="0.9"/>
<text x="0" y="0" font-size="8.6" text-anchor="middle" fill="#111" transform="translate(309.95 552.01) scale(0.900 1)" style="stroke-width:0.2px">−10</text>
<line x1="361.05" y1="536.8" x2="361.05" y2="539.8" stroke="#1a1a1a" stroke-width="0.9"/>
<text x="0" y="0" font-size="8.6" text-anchor="middle" fill="#111" transform="translate(361.05 552.01) scale(0.900 1)" style="stroke-width:0.2px">10</text>
<line x1="386.6" y1="536.8" x2="386.6" y2="539.8" stroke="#1a1a1a" stroke-width="0.9"/>
<text x="0" y="0" font-size="8.6" text-anchor="middle" fill="#111" transform="translate(386.6 552.01) scale(0.900 1)" style="stroke-width:0.2px">20</text>
<line x1="412.15" y1="536.8" x2="412.15" y2="539.8" stroke="#1a1a1a" stroke-width="0.9"/>
<text x="0" y="0" font-size="8.6" text-anchor="middle" fill="#111" transform="translate(412.15 552.01) scale(0.900 1)" style="stroke-width:0.2px">30</text>
<line x1="437.7" y1="536.8" x2="437.7" y2="539.8" stroke="#1a1a1a" stroke-width="0.9"/>
<text x="0" y="0" font-size="8.6" text-anchor="middle" fill="#111" transform="translate(437.7 552.01) scale(0.900 1)" style="stroke-width:0.2px">40</text>
<line x1="297.18" y1="536.8" x2="297.18" y2="538.4" stroke="#1a1a1a" stroke-width="0.8"/>
<line x1="322.73" y1="536.8" x2="322.73" y2="538.4" stroke="#1a1a1a" stroke-width="0.8"/>
<line x1="348.27" y1="536.8" x2="348.27" y2="538.4" stroke="#1a1a1a" stroke-width="0.8"/>
<line x1="373.82" y1="536.8" x2="373.82" y2="538.4" stroke="#1a1a1a" stroke-width="0.8"/>
<line x1="399.38" y1="536.8" x2="399.38" y2="538.4" stroke="#1a1a1a" stroke-width="0.8"/>
<line x1="424.93" y1="536.8" x2="424.93" y2="538.4" stroke="#1a1a1a" stroke-width="0.8"/>
<path d="M335.01 506.92L339.21 511.12M335.01 511.12L339.21 506.92" stroke="#b81a44" stroke-width="1.05" fill="none"/>
<path d="M336.72 503.33L340.92 507.53M336.72 507.53L340.92 503.33" stroke="#b81a44" stroke-width="1.05" fill="none"/>
<path d="M339.79 497.62L343.99 501.82M339.79 501.82L343.99 497.62" stroke="#b81a44" stroke-width="1.05" fill="none"/>
<path d="M346.17 494.05L350.38 498.25M346.17 498.25L350.38 494.05" stroke="#b81a44" stroke-width="1.05" fill="none"/>
<path d="M358.95 478.99L363.15 483.19M358.95 483.19L363.15 478.99" stroke="#b81a44" stroke-width="1.05" fill="none"/>
<path d="M384.5 456.39L388.7 460.59M384.5 460.59L388.7 456.39" stroke="#b81a44" stroke-width="1.05" fill="none"/>
<path d="M337.11 522.92L339.31 518.93L334.9 518.93Z" fill="#e58f18"/>
<path d="M338.82 521.31L341.03 517.32L336.62 517.32Z" fill="#e58f18"/>
<path d="M341.89 519.1L344.09 515.11L339.68 515.11Z" fill="#e58f18"/>
<path d="M348.27 516.33L350.48 512.34L346.07 512.34Z" fill="#e58f18"/>
<path d="M361.05 508.79L363.25 504.8L358.85 504.8Z" fill="#e58f18"/>
<path d="M386.6 493.72L388.81 489.73L384.4 489.73Z" fill="#e58f18"/>
<path d="M337.11 524.66L339.31 528.65L334.9 528.65Z" fill="#55ab40"/>
<path d="M338.82 523.95L341.03 527.94L336.62 527.94Z" fill="#55ab40"/>
<path d="M341.89 522.68L344.09 526.67L339.68 526.67Z" fill="#55ab40"/>
<path d="M348.27 520.03L350.48 524.02L346.07 524.02Z" fill="#55ab40"/>
<path d="M361.05 514.74L363.25 518.73L358.85 518.73Z" fill="#55ab40"/>
<path d="M386.6 504.14L388.81 508.13L384.4 508.13Z" fill="#55ab40"/>
<rect x="335.32" y="527.21" width="3.57" height="3.57" fill="#1f3f84"/>
<rect x="337.04" y="526.67" width="3.57" height="3.57" fill="#1f3f84"/>
<rect x="340.1" y="525.7" width="3.57" height="3.57" fill="#1f3f84"/>
<rect x="346.49" y="523.69" width="3.57" height="3.57" fill="#1f3f84"/>
<rect x="359.26" y="519.67" width="3.57" height="3.57" fill="#1f3f84"/>
<rect x="384.81" y="511.62" width="3.57" height="3.57" fill="#1f3f84"/>
<path d="M337.11 529.57L339.21 531.99L337.11 534.4L335.01 531.99Z" fill="#4a1d63"/>
<path d="M338.82 529.03L340.92 531.44L338.82 533.86L336.72 531.44Z" fill="#4a1d63"/>
<path d="M341.89 528.05L343.99 530.47L341.89 532.88L339.79 530.47Z" fill="#4a1d63"/>
<path d="M348.27 526.02L350.38 528.44L348.27 530.85L346.17 528.44Z" fill="#4a1d63"/>
<path d="M361.05 521.96L363.15 524.38L361.05 526.79L358.95 524.38Z" fill="#4a1d63"/>
<path d="M386.6 513.84L388.7 516.25L386.6 518.67L384.5 516.25Z" fill="#4a1d63"/>
<text x="0" y="0" font-size="9.8" text-anchor="middle" fill="#111" transform="translate(391.15 570.3) scale(0.920 1)">Warfarin (nM)</text>
<text x="0" y="0" font-size="8.9" text-anchor="middle" fill="#111" transform="translate(474.5 422.12) scale(0.880 1)">KO</text>
<line x1="447.2" y1="430.3" x2="457.4" y2="430.3" stroke="#b81a44" stroke-width="1"/>
<path d="M450.4 428.4L454.2 432.2M450.4 432.2L454.2 428.4" stroke="#b81a44" stroke-width="1.05" fill="none"/>
<text x="0" y="0" font-size="8.9" text-anchor="start" fill="#111" transform="translate(460.5 433.42) scale(0.880 1)">4000 nM</text>
<line x1="447.2" y1="446.4" x2="457.4" y2="446.4" stroke="#e58f18" stroke-width="1"/>
<path d="M452.3 448.49L454.29 444.88L450.3 444.88Z" fill="#e58f18"/>
<text x="0" y="0" font-size="8.9" text-anchor="start" fill="#111" transform="translate(460.5 449.51) scale(0.880 1)">2000 nM</text>
<line x1="447.2" y1="462" x2="457.4" y2="462" stroke="#55ab40" stroke-width="1"/>
<path d="M452.3 459.91L454.29 463.52L450.3 463.52Z" fill="#55ab40"/>
<text x="0" y="0" font-size="8.9" text-anchor="start" fill="#111" transform="translate(460.5 465.12) scale(0.880 1)">1000 nM</text>
<line x1="447.2" y1="478.1" x2="457.4" y2="478.1" stroke="#1f3f84" stroke-width="1"/>
<rect x="450.68" y="476.49" width="3.23" height="3.23" fill="#1f3f84"/>
<text x="0" y="0" font-size="8.9" text-anchor="start" fill="#111" transform="translate(460.5 481.22) scale(0.880 1)">500 nM</text>
<line x1="447.2" y1="494.2" x2="457.4" y2="494.2" stroke="#4a1d63" stroke-width="1"/>
<path d="M452.3 492.01L454.2 494.2L452.3 496.38L450.4 494.2Z" fill="#4a1d63"/>
<text x="0" y="0" font-size="8.9" text-anchor="start" fill="#111" transform="translate(460.5 497.31) scale(0.880 1)">250 nM</text>
<rect x="0" y="0" width="520" height="1.1" fill="#000"/>
<rect x="0" y="0" width="1.2" height="580" fill="#000"/>
<rect x="518.4" y="0" width="1.6" height="580" fill="#1c1c1c"/>
<rect x="0" y="578.3" width="520" height="1.7" fill="#1c1c1c"/>
</svg>
</body></html>
